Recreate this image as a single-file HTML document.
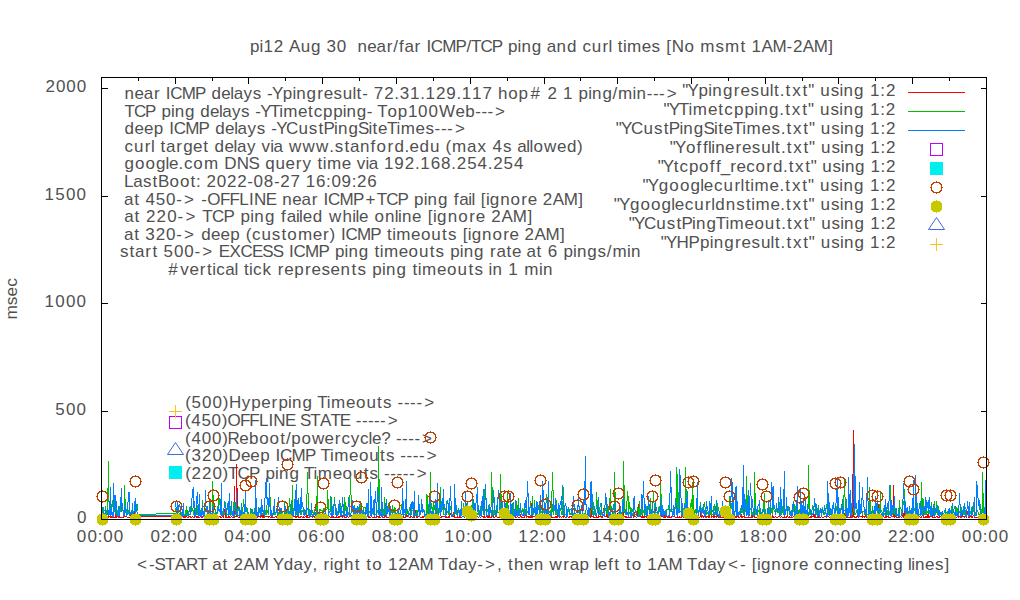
<!DOCTYPE html><html><head><meta charset="utf-8"><style>html,body{margin:0;padding:0;background:#fff;overflow:hidden}svg{display:block}text{font-family:"Liberation Sans",sans-serif;font-size:17px;fill:#505050}</style></head><body>
<svg width="1020" height="600" viewBox="0 0 1020 600">
<rect width="1020" height="600" fill="#fff"/>
<g><text x="250.1 259.6 263.5 273.8 283.9 288.9 300.7 311.0 321.1 326.5 336.8 346.9 352.1 357.4 367.2 376.5 386.7 393.3 399.0 404.4 414.5 421.2 426.4 430.8 442.3 455.6 466.6 471.0 480.4 491.7 502.7 508.1 517.6 521.5 531.8 541.9 546.8 556.6 566.9 577.0 582.4 591.7 602.4 608.5 612.1 617.8 622.9 627.0 641.7 651.5 660.6 666.3 671.8 684.6 694.7 700.3 715.5 725.0 740.6 746.3 751.6 761.5 772.5 786.6 792.9 802.8 813.8 828.3" y="52.0" xml:space="preserve">pi12 Aug 30  near/far ICMP/TCP ping and curl times [No msmt 1AM-2AM]</text><text x="77.0" y="522.6" xml:space="preserve">0</text><text x="55.3 66.0 76.6" y="415.2" xml:space="preserve">500</text><text x="44.6 55.2 65.9 76.6" y="307.2" xml:space="preserve">1000</text><text x="44.6 55.2 65.9 76.6" y="200.2" xml:space="preserve">1500</text><text x="45.5 55.9 66.3 76.7" y="92.2" xml:space="preserve">2000</text><text x="76.8 87.4 97.7 103.2 113.8" y="542.0" xml:space="preserve">00:00</text><text x="150.6 161.1 171.4 177.0 187.6" y="542.0" xml:space="preserve">02:00</text><text x="224.3 234.9 245.2 250.7 261.3" y="542.0" xml:space="preserve">04:00</text><text x="298.1 308.6 318.9 324.5 335.1" y="542.0" xml:space="preserve">06:00</text><text x="371.8 382.4 392.7 398.2 408.8" y="542.0" xml:space="preserve">08:00</text><text x="444.6 455.4 465.9 471.6 482.5" y="542.0" xml:space="preserve">10:00</text><text x="518.3 529.2 539.6 545.4 556.2" y="542.0" xml:space="preserve">12:00</text><text x="592.1 602.9 613.4 619.1 630.0" y="542.0" xml:space="preserve">14:00</text><text x="665.8 676.7 687.1 692.9 703.7" y="542.0" xml:space="preserve">16:00</text><text x="739.6 750.4 760.9 766.6 777.5" y="542.0" xml:space="preserve">18:00</text><text x="814.3 824.9 835.2 840.7 851.3" y="542.0" xml:space="preserve">20:00</text><text x="888.1 898.6 908.9 914.5 925.1" y="542.0" xml:space="preserve">22:00</text><text x="961.8 972.4 982.7 988.2 998.8" y="542.0" xml:space="preserve">00:00</text><text x="137.0 149.1 154.6 164.9 174.9 185.9 197.2 207.4 212.3 222.5 228.2 233.6 243.6 254.7 268.8 272.8 283.7 293.6 303.4 312.6 317.8 323.6 329.8 333.7 344.1 354.8 360.5 366.3 372.2 382.4 387.9 398.3 408.3 419.4 433.5 437.9 448.3 458.2 468.1 477.3 485.1 497.0 502.3 508.0 514.0 523.9 533.8 543.9 549.5 563.3 569.7 579.6 589.8 594.4 597.8 608.0 614.3 620.0 625.7 631.7 641.9 647.3 657.3 668.4 682.5 687.0 697.4 707.3 717.1 727.9 739.9 746.1 751.8 757.0 760.9 771.3 781.8 792.5 799.0 808.6 814.0 823.4 833.9 844.3 854.2 864.0 873.7 878.9 882.8 893.3 903.4 908.1 911.2 915.1 925.0 934.9 944.6" y="569.6" xml:space="preserve">&lt;-START at 2AM Yday, right to 12AM Tday-&gt;, then wrap left to 1AM Tday&lt;- [ignore connecting lines]</text><text x="0" y="0" transform="translate(17,319.6) rotate(-90)" textLength="41.4" lengthAdjust="spacingAndGlyphs">msec</text><text x="124.6 134.4 143.7 153.9 160.6 165.8 170.3 181.7 195.0 206.1 211.5 221.3 230.3 233.7 243.5 252.8 261.9 267.1 272.1 282.8 292.4 296.3 306.6 317.3 323.7 333.5 342.8 352.4 356.6 362.3 368.4 373.8 384.2 394.3 399.7 410.0 420.2 425.5 435.9 446.2 456.4 461.7 472.1 482.4 492.5 497.9 508.3 518.6 530.5 542.2 547.6 557.7 563.1 573.2 578.6 588.2 592.0 602.4 612.5 618.1 632.6 636.5 646.7 652.9 659.1 666.8" y="99.0" xml:space="preserve">near ICMP delays -Ypingresult- 72.31.129.117 hop# 2 1 ping/min---&gt;</text><text x="124.6 133.9 145.1 156.1 161.4 170.9 174.7 184.9 195.0 200.3 210.0 219.0 222.3 231.9 241.1 250.2 255.3 260.2 269.9 279.3 283.3 297.9 308.0 313.8 323.0 333.2 342.7 346.5 356.8 366.8 372.9 377.3 387.5 397.7 407.9 418.1 428.4 438.9 455.5 465.2 475.3 481.4 487.5 495.1" y="116.6" xml:space="preserve">TCP ping delays -YTimetcpping- Top100Web---&gt;</text><text x="124.6 134.5 143.9 153.8 163.9 169.2 173.7 185.3 198.6 209.7 215.2 225.1 234.2 237.6 247.4 256.8 265.9 271.2 276.2 286.1 298.4 308.8 318.5 323.5 334.1 338.0 348.4 357.9 368.4 372.6 378.1 387.0 396.5 400.7 415.5 425.4 434.6 440.9 447.1 454.9" y="134.2" xml:space="preserve">deep ICMP delays -YCustPingSiteTimes---&gt;</text><text x="124.6 134.1 144.8 151.0 154.7 160.5 165.9 176.2 183.2 193.1 203.3 209.1 214.6 224.5 233.6 237.0 246.9 256.1 261.6 270.2 273.6 283.3 288.9 302.5 316.1 329.3 334.7 344.5 349.9 359.9 370.6 376.6 387.4 394.4 404.6 409.5 419.5 429.9 440.1 445.4 452.1 467.0 477.4 487.2 492.6 503.0 512.3 517.2 526.3 529.5 533.4 544.0 556.9 566.9 577.1" y="151.8" xml:space="preserve">curl target delay via www.stanford.edu (max 4s allowed)</text><text x="124.6 135.0 145.5 155.9 165.5 168.9 178.5 183.9 193.3 204.0 219.1 224.2 236.7 248.6 259.7 265.2 275.6 285.5 295.7 302.6 311.8 317.5 322.7 326.9 341.7 351.4 356.8 365.4 368.8 378.4 383.9 394.3 404.7 414.9 420.3 430.7 441.1 451.3 456.7 467.2 477.6 487.7 493.2 503.6 514.0" y="169.4" xml:space="preserve">google.com DNS query time via 192.168.254.254</text><text x="124.1 133.3 143.0 152.5 157.9 169.6 179.9 190.4 196.0 201.2 206.5 216.7 226.9 237.2 247.3 253.6 263.8 273.9 280.2 290.4 300.5 305.8 316.0 326.1 331.4 341.6 351.7 357.0 367.2" y="187.0" xml:space="preserve">LastBoot: 2022-08-27 16:09:26</text><text x="124.1 134.3 140.0 145.4 155.7 166.1 176.3 184.0 196.0 201.2 207.3 220.1 229.5 239.3 248.9 253.9 265.8 276.9 282.3 292.2 301.5 311.7 318.4 323.6 328.1 339.6 353.0 365.6 376.8 386.2 397.6 408.7 414.1 423.7 427.6 437.9 448.1 453.8 459.2 468.3 471.4 475.1 480.8 485.9 489.8 500.2 510.6 521.3 527.7 537.3 542.7 552.7 563.7 578.3" y="204.6" xml:space="preserve">at 450-&gt; -OFFLINE near ICMP+TCP ping fail [ignore 2AM]</text><text x="124.2 134.5 140.4 146.0 156.6 167.2 177.6 185.6 197.7 202.3 212.0 223.6 234.9 240.5 250.3 254.3 264.9 275.3 281.1 286.7 295.9 299.1 302.7 312.7 323.1 328.9 342.5 352.2 355.4 359.0 368.8 374.4 385.0 394.7 397.9 402.0 412.1 421.9 427.7 433.0 437.0 447.7 458.3 469.2 475.8 485.6 491.2 501.4 512.8 527.6" y="222.2" xml:space="preserve">at 220-&gt; TCP ping failed while online [ignore 2AM]</text><text x="124.1 134.2 139.9 145.3 155.7 166.1 176.3 184.0 195.9 201.3 211.1 220.5 230.3 240.4 245.7 252.0 261.4 271.7 281.4 287.3 297.9 312.7 322.9 329.6 335.8 341.0 345.5 357.0 370.3 381.4 387.1 392.2 396.3 411.1 421.0 431.3 442.0 447.9 457.0 462.7 467.8 471.7 482.1 492.5 503.2 509.6 519.2 524.6 534.5 545.5 560.1" y="239.8" xml:space="preserve">at 320-&gt; deep (customer) ICMP timeouts [ignore 2AM]</text><text x="119.9 129.6 135.0 145.2 152.4 158.1 163.5 173.9 184.3 194.5 202.2 214.2 218.7 229.6 240.5 251.9 262.3 272.7 283.8 289.0 293.5 305.0 318.4 329.5 334.9 344.5 348.4 358.8 368.9 374.6 379.8 383.9 398.8 408.6 419.0 429.7 435.6 444.7 450.2 459.8 463.7 474.0 484.2 490.0 496.4 506.5 512.0 521.6 526.5 536.6 542.4 547.8 557.9 563.4 572.9 576.9 587.2 597.6 606.7 612.4 626.9 630.9" y="257.4" xml:space="preserve">start 500-&gt; EXCESS ICMP ping timeouts ping rate at 6 pings/min</text><text x="168.3 180.3 189.4 199.7 207.0 212.2 216.2 225.2 234.4 238.1 243.9 249.1 253.1 262.6 271.8 277.7 284.2 294.2 305.1 311.6 321.6 330.6 340.6 351.4 357.4 366.7 372.2 381.9 385.9 396.5 406.8 412.6 417.8 422.1 437.1 447.1 457.6 468.4 474.4 483.7 488.4 492.4 502.7 508.2 518.5 524.3 539.0 543.0" y="275.0" xml:space="preserve">#vertical tick represents ping timeouts in 1 min</text><text x="682.3 687.6 698.6 708.3 712.3 722.9 733.8 740.4 750.4 759.9 769.7 773.9 779.8 785.6 792.2 802.5 808.2 814.7 820.3 830.8 839.5 843.5 854.1 864.4 870.0 880.3 885.9" y="96.0" xml:space="preserve">&quot;Ypingresult.txt&quot; using 1:2</text><text x="663.4 668.7 678.8 688.4 692.8 707.9 718.2 724.3 733.9 744.6 754.3 758.4 769.0 779.3 785.2 791.8 802.2 807.9 814.4 820.0 830.6 839.3 843.4 854.0 864.3 869.9 880.2 885.8" y="115.0" xml:space="preserve">&quot;YTimetcpping.txt&quot; using 1:2</text><text x="615.8 621.0 631.0 643.5 653.9 663.7 668.7 679.4 683.3 693.8 703.4 714.0 718.2 723.7 732.7 742.3 746.6 761.5 771.4 780.7 786.4 793.0 803.2 808.9 815.3 820.8 831.3 839.9 843.9 854.4 864.6 870.1 880.4 885.9" y="134.0" xml:space="preserve">&quot;YCustPingSiteTimes.txt&quot; using 1:2</text><text x="669.8 675.0 685.9 696.6 702.9 708.1 711.2 715.2 725.1 735.4 741.9 751.8 761.3 770.9 775.1 780.9 786.7 793.2 803.4 809.1 815.5 821.0 831.4 840.0 844.0 854.5 864.7 870.2 880.4 885.9" y="153.0" xml:space="preserve">&quot;Yofflineresult.txt&quot; using 1:2</text><text x="657.7 662.8 673.8 679.6 688.9 699.1 709.7 715.9 720.7 730.3 736.6 746.3 755.6 766.2 773.0 783.1 788.7 795.1 805.2 810.7 817.0 822.3 832.5 841.0 844.9 855.1 865.2 870.5 880.6 885.9" y="172.0" xml:space="preserve">&quot;Ytcpoff_record.txt&quot; using 1:2</text><text x="642.4 647.7 658.7 669.3 680.0 690.6 700.3 703.8 713.9 723.5 734.4 740.6 744.9 750.2 754.6 769.6 779.4 785.3 791.9 802.3 808.0 814.5 820.1 830.6 839.3 843.4 854.0 864.3 869.9 880.3 885.9" y="191.0" xml:space="preserve">&quot;Ygooglecurltime.txt&quot; using 1:2</text><text x="613.8 619.0 630.0 640.5 651.0 661.6 671.3 674.7 684.7 694.2 705.1 711.3 715.3 725.8 736.3 746.1 751.3 755.6 770.6 780.3 786.1 792.6 802.9 808.6 815.0 820.6 831.1 839.7 843.7 854.3 864.5 870.1 880.3 885.9" y="210.0" xml:space="preserve">&quot;Ygooglecurldnstime.txt&quot; using 1:2</text><text x="628.8 633.9 643.9 656.3 666.7 676.4 681.4 692.0 695.9 706.4 715.8 725.4 729.6 744.5 754.4 764.8 775.5 781.3 787.0 793.5 803.7 809.3 815.7 821.2 831.6 840.2 844.1 854.6 864.8 870.2 880.4 885.9" y="229.0" xml:space="preserve">&quot;YCustPingTimeout.txt&quot; using 1:2</text><text x="660.8 666.0 676.6 688.6 700.0 709.7 713.7 724.2 735.0 741.5 751.4 760.9 770.6 774.8 780.6 786.4 792.9 803.2 808.8 815.3 820.8 831.2 839.9 843.9 854.4 864.6 870.1 880.4 885.9" y="248.0" xml:space="preserve">&quot;YHPpingresult.txt&quot; using 1:2</text><text x="185.2 191.6 202.1 212.6 222.8 228.9 241.8 251.3 261.2 271.5 278.5 288.1 292.1 302.6 312.8 317.3 326.8 331.1 346.0 355.9 366.4 377.1 383.1 392.3 397.6 403.9 410.1 416.4 424.2" y="408.0" xml:space="preserve">(500)Hyperping Timeouts ----&gt;</text><text x="185.1 191.3 201.5 211.6 221.7 227.5 240.1 249.3 258.9 268.4 273.2 284.9 295.8 300.1 310.2 319.9 330.5 339.7 350.6 355.8 361.9 368.0 374.1 380.1 387.7" y="425.8" xml:space="preserve">(450)OFFLINE STATE -----&gt;</text><text x="185.1 191.5 201.7 212.0 222.2 227.6 239.3 249.1 259.3 269.6 280.2 285.9 291.2 301.5 311.9 324.6 334.8 341.6 350.8 360.1 368.6 372.0 381.2 390.8 396.0 402.1 408.3 414.5 422.1" y="443.5" xml:space="preserve">(400)Reboot/powercycle? ----&gt;</text><text x="185.1 191.6 202.0 212.4 222.6 228.6 240.9 250.3 260.2 270.3 275.5 280.1 291.6 305.0 316.1 320.5 330.0 334.2 349.0 358.9 369.3 380.0 385.9 395.1 400.3 406.5 412.8 419.0 426.8" y="461.2" xml:space="preserve">(320)Deep ICMP Timeouts ----&gt;</text><text x="185.2 191.6 202.0 212.4 222.6 228.1 237.5 248.9 260.1 265.5 275.1 279.0 289.4 299.6 304.1 313.6 317.8 332.7 342.5 353.0 363.7 369.6 378.7 384.0 390.3 396.5 402.7 409.0 416.8" y="479.0" xml:space="preserve">(220)TCP ping Timeouts -----&gt;</text></g>
<path d="M101 518.5h7M987 518.5h-6M101 411.5h7M987 411.5h-6M101 303.5h7M987 303.5h-6M101 196.5h7M987 196.5h-6M101 88.5h7M987 88.5h-6M101.5 78v6M101.5 519v-6M138.5 78v3M138.5 519v-3M175.5 78v6M175.5 519v-6M212.5 78v3M212.5 519v-3M248.5 78v6M248.5 519v-6M285.5 78v3M285.5 519v-3M322.5 78v6M322.5 519v-6M359.5 78v3M359.5 519v-3M396.5 78v6M396.5 519v-6M433.5 78v3M433.5 519v-3M470.5 78v6M470.5 519v-6M507.5 78v3M507.5 519v-3M544.5 78v6M544.5 519v-6M580.5 78v3M580.5 519v-3M617.5 78v6M617.5 519v-6M654.5 78v3M654.5 519v-3M691.5 78v6M691.5 519v-6M728.5 78v3M728.5 519v-3M765.5 78v6M765.5 519v-6M802.5 78v3M802.5 519v-3M838.5 78v6M838.5 519v-6M875.5 78v3M875.5 519v-3M912.5 78v6M912.5 519v-6M949.5 78v3M949.5 519v-3M986.5 78v6M986.5 519v-6" fill="none" stroke="#000" stroke-width="1" shape-rendering="crispEdges"/>
<g><path d="M101.5 517v1M102.5 516v2M103.5 511v7M104.5 514v3M105.5 517v1M106.5 517v1M107.5 517v1M108.5 516v2M109.5 516v1M110.5 516v2M111.5 516v2M112.5 517v1M113.5 516v2M114.5 517v1M115.5 503v15M116.5 510v8M117.5 516v1M118.5 516v2M119.5 516v2M120.5 517v1M121.5 517v1M122.5 517v1M123.5 516v2M124.5 516v1M125.5 516v1M126.5 514v3M127.5 517v1M128.5 517v1M129.5 517v1M130.5 512v6M131.5 514v3M132.5 517v1M133.5 512v6M134.5 505v13M135.5 514v3M136.5 515v2M137.5 516v2M138.5 516v1M139.5 516v1M140.5 516v1M141.5 516v1M142.5 516v1M143.5 516v1M144.5 516v1M145.5 516v1M146.5 516v1M147.5 516v1M148.5 516v1M149.5 516v1M150.5 516v1M151.5 516v1M152.5 516v1M153.5 516v1M154.5 516v1M155.5 516v1M156.5 516v1M157.5 516v1M158.5 516v1M159.5 516v1M160.5 516v1M161.5 516v1M162.5 516v1M163.5 516v1M164.5 516v1M165.5 516v1M166.5 516v1M167.5 516v1M168.5 516v1M169.5 516v1M170.5 516v1M171.5 516v1M172.5 516v1M173.5 516v1M174.5 516v1M175.5 516v2M176.5 516v1M177.5 516v2M178.5 517v1M179.5 517v1M180.5 517v1M181.5 517v1M182.5 516v1M183.5 510v8M184.5 514v4M185.5 516v2M186.5 516v1M187.5 517v1M188.5 517v1M189.5 516v1M190.5 516v2M191.5 517v1M192.5 516v1M193.5 517v1M194.5 516v2M195.5 516v1M196.5 516v2M197.5 516v2M198.5 517v1M199.5 517v1M200.5 516v1M201.5 517v1M202.5 516v2M203.5 516v1M204.5 514v4M205.5 515v2M206.5 516v1M207.5 516v1M208.5 516v1M209.5 516v1M210.5 511v7M211.5 514v4M212.5 517v1M213.5 512v6M214.5 515v3M215.5 516v2M216.5 517v1M217.5 516v1M218.5 517v1M219.5 516v1M220.5 516v2M221.5 517v1M222.5 516v1M223.5 514v4M224.5 509v5M225.5 513v5M226.5 516v2M227.5 517v1M228.5 516v2M229.5 516v2M230.5 517v1M231.5 516v1M232.5 517v1M233.5 502v16M234.5 486v32M235.5 516v1M236.5 464v53M237.5 488v29M238.5 517v1M239.5 516v2M240.5 516v1M241.5 516v1M242.5 517v1M243.5 517v1M244.5 517v1M245.5 516v2M246.5 517v1M247.5 516v2M248.5 516v2M249.5 517v1M250.5 516v1M251.5 517v1M252.5 517v1M253.5 517v1M254.5 517v1M255.5 516v2M256.5 516v1M257.5 517v1M258.5 516v1M259.5 516v1M260.5 516v2M261.5 513v4M262.5 514v4M263.5 510v8M264.5 517v1M265.5 516v1M266.5 516v1M267.5 516v1M268.5 516v2M269.5 516v1M270.5 517v1M271.5 516v2M272.5 516v2M273.5 517v1M274.5 517v1M275.5 516v1M276.5 516v2M277.5 516v2M278.5 517v1M279.5 517v1M280.5 516v2M281.5 517v1M282.5 516v2M283.5 516v1M284.5 517v1M285.5 516v1M286.5 516v1M287.5 517v1M288.5 516v2M289.5 516v1M290.5 517v1M291.5 517v1M292.5 517v1M293.5 516v1M294.5 516v1M295.5 516v2M296.5 516v2M297.5 516v1M298.5 516v2M299.5 517v1M300.5 516v2M301.5 516v1M302.5 517v1M303.5 516v2M304.5 517v1M305.5 516v1M306.5 513v5M307.5 515v3M308.5 517v1M309.5 515v3M310.5 516v1M311.5 516v1M312.5 516v2M313.5 516v1M314.5 516v2M315.5 516v2M316.5 517v1M317.5 517v1M318.5 517v1M319.5 511v7M320.5 514v4M321.5 517v1M322.5 516v2M323.5 516v2M324.5 516v1M325.5 516v1M326.5 517v1M327.5 515v3M328.5 516v2M329.5 516v1M330.5 517v1M331.5 516v2M332.5 517v1M333.5 516v2M334.5 517v1M335.5 517v1M336.5 516v2M337.5 517v1M338.5 516v2M339.5 516v2M340.5 516v1M341.5 516v1M342.5 515v3M343.5 511v6M344.5 516v2M345.5 517v1M346.5 516v2M347.5 516v1M348.5 517v1M349.5 515v2M350.5 513v2M351.5 515v3M352.5 517v1M353.5 517v1M354.5 516v2M355.5 517v1M356.5 517v1M357.5 517v1M358.5 516v1M359.5 513v5M360.5 515v3M361.5 517v1M362.5 516v2M363.5 517v1M364.5 516v1M365.5 514v3M366.5 516v2M367.5 516v1M368.5 516v2M369.5 517v1M370.5 517v1M371.5 516v1M372.5 517v1M373.5 517v1M374.5 517v1M375.5 517v1M376.5 516v2M377.5 516v1M378.5 516v2M379.5 516v2M380.5 517v1M381.5 516v1M382.5 517v1M383.5 517v1M384.5 516v2M385.5 515v2M386.5 513v5M387.5 517v1M388.5 517v1M389.5 517v1M390.5 512v5M391.5 515v3M392.5 516v2M393.5 517v1M394.5 517v1M395.5 516v2M396.5 516v1M397.5 517v1M398.5 516v2M399.5 517v1M400.5 513v4M401.5 515v2M402.5 517v1M403.5 516v2M404.5 517v1M405.5 517v1M406.5 513v4M407.5 515v2M408.5 512v5M409.5 517v1M410.5 516v2M411.5 516v1M412.5 517v1M413.5 517v1M414.5 514v4M415.5 510v4M416.5 514v4M417.5 517v1M418.5 516v1M419.5 516v1M420.5 517v1M421.5 517v1M422.5 516v2M423.5 516v2M424.5 512v4M425.5 515v3M426.5 515v2M427.5 516v2M428.5 517v1M429.5 513v5M430.5 509v9M431.5 515v2M432.5 516v2M433.5 512v6M434.5 515v3M435.5 517v1M436.5 517v1M437.5 516v1M438.5 516v1M439.5 517v1M440.5 517v1M441.5 516v2M442.5 516v1M443.5 516v1M444.5 516v1M445.5 517v1M446.5 516v2M447.5 517v1M448.5 516v2M449.5 515v3M450.5 513v2M451.5 515v2M452.5 516v1M453.5 512v5M454.5 515v3M455.5 517v1M456.5 517v1M457.5 516v2M458.5 517v1M459.5 516v2M460.5 517v1M461.5 517v1M462.5 516v1M463.5 515v2M464.5 512v6M465.5 512v5M466.5 513v4M467.5 509v9M468.5 516v1M469.5 507v11M470.5 512v6M471.5 517v1M472.5 517v1M473.5 516v2M474.5 517v1M475.5 512v5M476.5 515v3M477.5 516v1M478.5 517v1M479.5 516v1M480.5 517v1M481.5 516v1M482.5 516v1M483.5 516v2M484.5 516v2M485.5 517v1M486.5 516v1M487.5 516v2M488.5 511v7M489.5 504v14M490.5 517v1M491.5 516v2M492.5 508v9M493.5 513v5M494.5 517v1M495.5 516v1M496.5 516v1M497.5 517v1M498.5 517v1M499.5 516v2M500.5 517v1M501.5 516v1M502.5 516v2M503.5 517v1M504.5 516v2M505.5 517v1M506.5 517v1M507.5 516v2M508.5 516v2M509.5 514v2M510.5 516v2M511.5 517v1M512.5 516v2M513.5 516v2M514.5 516v1M515.5 516v2M516.5 517v1M517.5 516v1M518.5 517v1M519.5 517v1M520.5 514v3M521.5 516v2M522.5 517v1M523.5 517v1M524.5 516v2M525.5 512v4M526.5 509v9M527.5 516v1M528.5 516v2M529.5 516v2M530.5 517v1M531.5 503v15M532.5 510v8M533.5 516v1M534.5 516v1M535.5 516v1M536.5 517v1M537.5 517v1M538.5 517v1M539.5 516v2M540.5 517v1M541.5 516v1M542.5 516v2M543.5 516v1M544.5 516v2M545.5 516v1M546.5 517v1M547.5 516v1M548.5 515v2M549.5 516v1M550.5 516v2M551.5 516v2M552.5 517v1M553.5 517v1M554.5 517v1M555.5 516v2M556.5 516v2M557.5 514v4M558.5 509v8M559.5 516v2M560.5 516v1M561.5 517v1M562.5 516v1M563.5 516v2M564.5 516v1M565.5 517v1M566.5 516v2M567.5 516v1M568.5 517v1M569.5 516v2M570.5 516v1M571.5 516v2M572.5 516v2M573.5 516v1M574.5 516v2M575.5 516v2M576.5 516v1M577.5 516v1M578.5 516v1M579.5 515v2M580.5 517v1M581.5 516v1M582.5 509v8M583.5 513v5M584.5 517v1M585.5 511v6M586.5 514v4M587.5 514v4M588.5 512v6M589.5 516v1M590.5 503v15M591.5 488v29M592.5 516v1M593.5 514v4M594.5 517v1M595.5 517v1M596.5 516v2M597.5 517v1M598.5 515v3M599.5 516v1M600.5 516v1M601.5 516v2M602.5 513v5M603.5 508v5M604.5 512v5M605.5 516v1M606.5 513v4M607.5 515v3M608.5 517v1M609.5 516v2M610.5 517v1M611.5 516v1M612.5 516v2M613.5 516v1M614.5 516v2M615.5 516v2M616.5 516v1M617.5 516v2M618.5 517v1M619.5 515v2M620.5 516v1M621.5 517v1M622.5 515v3M623.5 512v5M624.5 516v1M625.5 516v2M626.5 516v2M627.5 517v1M628.5 516v2M629.5 517v1M630.5 516v2M631.5 514v4M632.5 514v2M633.5 515v3M634.5 512v5M635.5 516v1M636.5 517v1M637.5 511v6M638.5 504v13M639.5 516v1M640.5 516v1M641.5 516v2M642.5 515v3M643.5 516v2M644.5 516v2M645.5 516v1M646.5 515v3M647.5 516v2M648.5 515v3M649.5 511v6M650.5 516v1M651.5 516v1M652.5 516v2M653.5 516v1M654.5 513v5M655.5 509v8M656.5 516v1M657.5 516v1M658.5 517v1M659.5 516v1M660.5 516v2M661.5 516v1M662.5 513v4M663.5 510v8M664.5 514v4M665.5 516v2M666.5 516v1M667.5 517v1M668.5 516v2M669.5 513v5M670.5 517v1M671.5 516v2M672.5 516v1M673.5 516v1M674.5 516v1M675.5 517v1M676.5 517v1M677.5 516v2M678.5 517v1M679.5 516v2M680.5 517v1M681.5 516v2M682.5 516v1M683.5 517v1M684.5 510v7M685.5 514v4M686.5 516v1M687.5 516v1M688.5 516v1M689.5 516v2M690.5 517v1M691.5 517v1M692.5 513v5M693.5 515v3M694.5 516v1M695.5 517v1M696.5 516v1M697.5 517v1M698.5 516v2M699.5 517v1M700.5 503v14M701.5 510v8M702.5 515v2M703.5 516v2M704.5 516v1M705.5 516v2M706.5 516v2M707.5 516v1M708.5 516v2M709.5 515v3M710.5 511v4M711.5 514v4M712.5 516v1M713.5 515v3M714.5 516v2M715.5 516v1M716.5 514v4M717.5 515v2M718.5 517v1M719.5 517v1M720.5 516v2M721.5 517v1M722.5 517v1M723.5 517v1M724.5 516v1M725.5 516v2M726.5 516v1M727.5 517v1M728.5 515v3M729.5 512v3M730.5 514v4M731.5 517v1M732.5 516v1M733.5 516v2M734.5 517v1M735.5 516v2M736.5 516v2M737.5 516v1M738.5 516v2M739.5 517v1M740.5 511v6M741.5 514v4M742.5 516v2M743.5 516v1M744.5 514v4M745.5 517v1M746.5 517v1M747.5 517v1M748.5 516v2M749.5 517v1M750.5 517v1M751.5 515v3M752.5 512v6M753.5 516v1M754.5 516v2M755.5 517v1M756.5 517v1M757.5 516v2M758.5 517v1M759.5 514v4M760.5 509v9M761.5 516v1M762.5 516v1M763.5 516v1M764.5 516v1M765.5 516v2M766.5 517v1M767.5 516v1M768.5 517v1M769.5 517v1M770.5 516v1M771.5 516v1M772.5 514v4M773.5 516v2M774.5 517v1M775.5 516v1M776.5 517v1M777.5 517v1M778.5 516v1M779.5 516v1M780.5 517v1M781.5 516v1M782.5 517v1M783.5 517v1M784.5 516v2M785.5 517v1M786.5 516v2M787.5 513v4M788.5 517v1M789.5 516v2M790.5 517v1M791.5 516v2M792.5 517v1M793.5 516v1M794.5 514v4M795.5 513v5M796.5 517v1M797.5 516v1M798.5 517v1M799.5 512v6M800.5 505v12M801.5 514v4M802.5 509v9M803.5 516v2M804.5 517v1M805.5 515v2M806.5 516v1M807.5 517v1M808.5 516v1M809.5 517v1M810.5 516v2M811.5 516v2M812.5 516v1M813.5 511v6M814.5 514v4M815.5 516v2M816.5 517v1M817.5 517v1M818.5 516v2M819.5 516v2M820.5 517v1M821.5 516v1M822.5 517v1M823.5 517v1M824.5 516v1M825.5 516v1M826.5 516v2M827.5 516v1M828.5 516v1M829.5 517v1M830.5 517v1M831.5 516v2M832.5 516v1M833.5 516v1M834.5 514v4M835.5 517v1M836.5 517v1M837.5 517v1M838.5 516v2M839.5 516v1M840.5 516v2M841.5 517v1M842.5 516v2M843.5 516v2M844.5 513v3M845.5 515v3M846.5 517v1M847.5 517v1M848.5 517v1M849.5 517v1M850.5 512v6M851.5 514v4M852.5 474v44M853.5 430v87M854.5 516v2M855.5 517v1M856.5 516v2M857.5 516v1M858.5 512v6M859.5 514v3M860.5 516v1M861.5 516v1M862.5 515v3M863.5 516v1M864.5 516v2M865.5 509v8M866.5 501v17M867.5 516v2M868.5 517v1M869.5 516v2M870.5 516v1M871.5 517v1M872.5 516v2M873.5 517v1M874.5 516v2M875.5 517v1M876.5 517v1M877.5 511v6M878.5 504v14M879.5 517v1M880.5 516v2M881.5 517v1M882.5 516v1M883.5 516v1M884.5 517v1M885.5 516v2M886.5 516v2M887.5 516v1M888.5 516v2M889.5 517v1M890.5 517v1M891.5 516v1M892.5 516v1M893.5 485v32M894.5 501v17M895.5 516v1M896.5 517v1M897.5 517v1M898.5 517v1M899.5 517v1M900.5 516v1M901.5 517v1M902.5 513v4M903.5 513v5M904.5 507v11M905.5 516v2M906.5 517v1M907.5 516v2M908.5 517v1M909.5 516v2M910.5 517v1M911.5 516v1M912.5 517v1M913.5 517v1M914.5 517v1M915.5 517v1M916.5 517v1M917.5 516v2M918.5 513v5M919.5 516v1M920.5 517v1M921.5 516v2M922.5 514v2M923.5 516v2M924.5 517v1M925.5 516v2M926.5 516v2M927.5 514v4M928.5 509v9M929.5 516v2M930.5 516v1M931.5 513v4M932.5 515v3M933.5 517v1M934.5 516v2M935.5 517v1M936.5 516v1M937.5 516v2M938.5 517v1M939.5 516v2M940.5 516v1M941.5 516v2M942.5 516v2M943.5 516v1M944.5 517v1M945.5 509v9M946.5 513v5M947.5 517v1M948.5 516v1M949.5 516v1M950.5 517v1M951.5 516v1M952.5 516v2M953.5 516v2M954.5 516v1M955.5 516v2M956.5 517v1M957.5 515v2M958.5 516v2M959.5 516v1M960.5 516v2M961.5 513v5M962.5 515v2M963.5 516v1M964.5 516v2M965.5 516v1M966.5 515v3M967.5 511v4M968.5 514v4M969.5 516v2M970.5 516v1M971.5 516v2M972.5 516v2M973.5 515v1M974.5 515v3M975.5 517v1M976.5 517v1M977.5 517v1M978.5 517v1M979.5 516v2M980.5 516v2M981.5 516v1M982.5 516v2M983.5 517v1M984.5 516v2M985.5 516v1M986.5 517v1" fill="none" stroke="#ff0000" stroke-width="1" shape-rendering="crispEdges"/><path d="M101.5 514v1M102.5 508v7M103.5 507v5M104.5 510v1M105.5 506v7M106.5 510v5M107.5 488v27M108.5 461v41M109.5 501v7M110.5 507v8M111.5 504v7M112.5 500v7M113.5 507v8M114.5 508v4M115.5 503v10M116.5 505v10M117.5 510v5M118.5 506v9M119.5 506v9M120.5 508v4M121.5 499v13M122.5 504v7M123.5 511v4M124.5 485v28M125.5 499v14M126.5 509v3M127.5 512v3M128.5 510v4M129.5 506v9M130.5 514v1M131.5 512v3M132.5 509v3M133.5 511v4M134.5 505v6M135.5 510v5M136.5 505v5M137.5 504v7M137.5 514v1M138.5 514v1M139.5 514v1M140.5 514v1M141.5 514v1M142.5 514v1M143.5 514v1M144.5 514v1M145.5 514v1M146.5 514v1M147.5 514v1M148.5 514v1M149.5 514v1M150.5 514v1M151.5 514v1M152.5 514v1M153.5 514v1M154.5 514v1M155.5 514v1M156.5 513v1M157.5 513v1M158.5 513v1M159.5 513v1M160.5 513v1M161.5 513v1M162.5 513v1M163.5 513v1M164.5 513v1M165.5 513v1M166.5 513v1M167.5 513v1M168.5 513v1M169.5 513v1M170.5 513v1M171.5 513v1M172.5 513v1M173.5 513v1M174.5 513v1M175.5 508v3M175.5 513v1M176.5 511v4M177.5 510v5M178.5 505v8M179.5 513v2M180.5 510v5M181.5 512v3M182.5 512v3M183.5 511v4M184.5 514v1M185.5 510v5M186.5 506v9M187.5 510v5M188.5 511v4M189.5 514v1M190.5 506v9M191.5 499v13M192.5 508v3M193.5 510v5M194.5 506v5M195.5 508v3M196.5 503v8M197.5 505v10M198.5 510v5M199.5 507v5M200.5 510v2M201.5 508v7M202.5 500v15M203.5 511v2M204.5 510v1M205.5 508v4M206.5 506v4M207.5 510v5M208.5 513v2M209.5 505v8M210.5 501v14M211.5 513v2M212.5 481v32M213.5 495v20M214.5 504v6M215.5 509v6M216.5 514v1M217.5 506v8M218.5 497v9M219.5 498v7M220.5 505v10M221.5 507v6M222.5 511v4M223.5 510v5M224.5 512v3M225.5 502v10M226.5 508v7M227.5 514v1M228.5 514v1M229.5 504v11M230.5 506v5M231.5 511v4M232.5 513v2M233.5 502v13M234.5 502v9M235.5 508v7M236.5 512v3M237.5 509v6M238.5 506v5M239.5 507v5M240.5 512v3M241.5 512v3M242.5 507v8M243.5 499v8M244.5 507v8M245.5 510v2M246.5 510v2M247.5 508v7M248.5 512v3M249.5 514v1M250.5 508v7M251.5 511v4M252.5 509v6M253.5 512v3M254.5 508v4M255.5 509v2M256.5 507v8M257.5 514v1M258.5 510v5M259.5 508v2M260.5 510v3M261.5 512v3M262.5 513v2M263.5 510v5M264.5 510v3M265.5 510v5M266.5 505v10M267.5 510v3M268.5 507v8M269.5 489v18M270.5 497v13M271.5 510v5M272.5 514v1M273.5 514v1M274.5 512v3M275.5 513v2M276.5 508v5M277.5 502v10M278.5 512v3M279.5 509v4M280.5 513v2M281.5 512v2M282.5 513v2M283.5 514v1M284.5 501v14M285.5 506v9M286.5 513v2M287.5 506v7M288.5 507v8M289.5 498v9M290.5 504v7M291.5 500v15M292.5 485v24M293.5 508v5M294.5 502v6M295.5 500v15M296.5 508v7M297.5 512v3M298.5 508v7M299.5 510v3M300.5 508v7M301.5 510v5M302.5 510v2M303.5 512v3M304.5 509v3M305.5 512v3M306.5 494v21M307.5 472v22M308.5 493v22M309.5 509v6M310.5 510v5M311.5 505v10M312.5 510v3M313.5 512v3M314.5 509v3M315.5 512v3M316.5 496v19M317.5 476v39M318.5 512v3M319.5 509v3M320.5 509v2M321.5 510v1M322.5 510v5M323.5 508v7M324.5 508v4M325.5 509v2M326.5 509v1M327.5 490v19M328.5 499v12M329.5 509v1M330.5 496v16M331.5 502v10M332.5 506v4M333.5 504v11M334.5 497v7M335.5 504v11M336.5 508v7M337.5 511v4M338.5 511v4M339.5 508v5M340.5 503v5M341.5 506v9M342.5 511v2M343.5 512v3M344.5 497v18M345.5 502v9M346.5 506v9M347.5 510v5M348.5 512v3M349.5 495v20M350.5 478v17M351.5 495v18M352.5 508v4M353.5 512v3M354.5 505v10M355.5 508v7M356.5 511v2M357.5 509v6M358.5 507v4M359.5 511v4M360.5 501v10M361.5 508v7M362.5 510v3M363.5 507v8M364.5 507v1M365.5 507v8M366.5 510v3M367.5 509v3M368.5 506v5M369.5 511v2M370.5 506v9M371.5 509v6M372.5 512v2M373.5 512v3M374.5 511v4M375.5 514v1M376.5 513v2M377.5 510v3M378.5 446v69M379.5 479v33M380.5 509v6M381.5 510v5M382.5 504v8M383.5 509v6M384.5 497v15M385.5 506v9M386.5 501v14M387.5 506v6M388.5 503v5M389.5 506v7M390.5 508v3M391.5 511v2M392.5 505v10M393.5 509v4M394.5 507v8M395.5 508v7M396.5 514v1M397.5 509v6M398.5 511v4M399.5 513v2M400.5 510v5M401.5 504v6M402.5 509v6M403.5 510v5M404.5 514v1M405.5 504v11M406.5 509v6M407.5 512v2M408.5 511v4M409.5 507v4M410.5 508v7M411.5 510v5M412.5 510v1M413.5 505v10M414.5 495v20M415.5 513v2M416.5 510v5M417.5 510v5M418.5 505v7M419.5 512v3M420.5 510v5M421.5 504v6M422.5 507v3M423.5 509v2M424.5 510v5M425.5 514v1M426.5 494v21M427.5 495v20M428.5 504v9M429.5 493v22M430.5 472v42M431.5 503v6M432.5 507v5M433.5 501v14M434.5 505v5M435.5 508v7M436.5 501v7M437.5 507v8M438.5 511v4M439.5 500v13M440.5 487v23M441.5 501v8M442.5 503v7M443.5 510v5M444.5 514v1M445.5 508v7M446.5 501v10M447.5 511v2M448.5 510v5M449.5 509v6M450.5 506v4M451.5 510v5M452.5 514v1M453.5 514v1M454.5 514v1M455.5 509v5M456.5 505v10M457.5 510v5M458.5 508v3M459.5 511v4M460.5 514v1M461.5 504v11M462.5 508v7M463.5 503v6M464.5 507v4M465.5 510v5M466.5 513v2M467.5 503v10M468.5 509v6M469.5 509v6M470.5 507v5M471.5 505v3M472.5 499v12M473.5 504v11M474.5 506v5M475.5 508v5M476.5 513v2M477.5 513v2M478.5 511v4M479.5 510v3M480.5 506v5M481.5 507v6M482.5 507v4M483.5 498v17M484.5 489v20M485.5 509v2M486.5 506v9M487.5 509v3M488.5 505v6M489.5 506v9M490.5 507v6M491.5 472v35M492.5 487v28M493.5 510v5M494.5 505v10M495.5 514v1M496.5 505v10M497.5 499v14M498.5 512v1M499.5 510v5M500.5 474v36M501.5 494v21M502.5 509v4M503.5 513v2M504.5 514v1M505.5 512v3M506.5 501v11M507.5 492v23M508.5 513v2M509.5 511v2M510.5 508v3M511.5 506v2M512.5 505v10M513.5 502v13M514.5 512v2M515.5 507v6M516.5 501v10M517.5 505v6M518.5 498v10M519.5 508v5M520.5 507v6M521.5 512v3M522.5 508v4M523.5 509v6M524.5 505v10M525.5 509v6M526.5 502v9M527.5 511v2M528.5 509v6M529.5 507v8M530.5 501v7M531.5 506v9M532.5 496v19M533.5 508v7M534.5 500v13M535.5 507v3M536.5 509v4M537.5 507v8M538.5 505v5M539.5 508v7M540.5 504v11M541.5 511v2M542.5 513v2M543.5 508v5M544.5 504v9M545.5 503v9M546.5 494v9M547.5 502v13M548.5 513v2M549.5 511v2M550.5 510v5M551.5 491v24M552.5 472v19M553.5 490v25M554.5 507v4M555.5 504v11M556.5 500v15M557.5 511v2M558.5 511v4M559.5 510v5M560.5 508v3M561.5 511v4M562.5 501v14M563.5 487v20M564.5 507v8M565.5 514v1M566.5 512v3M567.5 512v3M568.5 508v4M569.5 511v4M570.5 513v2M571.5 511v4M572.5 511v4M573.5 513v2M574.5 511v4M575.5 508v3M576.5 510v3M577.5 513v2M578.5 511v2M579.5 506v5M580.5 509v6M581.5 514v1M582.5 514v1M583.5 514v1M584.5 513v2M585.5 510v5M586.5 514v1M587.5 512v3M588.5 511v4M589.5 514v1M590.5 510v5M591.5 496v14M592.5 505v10M593.5 502v8M594.5 510v5M595.5 509v5M596.5 492v17M597.5 500v11M598.5 511v4M599.5 507v8M600.5 503v4M601.5 506v9M602.5 512v3M603.5 509v3M604.5 510v2M605.5 508v3M606.5 504v10M607.5 504v11M608.5 506v5M609.5 498v11M610.5 489v26M611.5 506v5M612.5 508v5M613.5 511v4M614.5 472v39M615.5 492v23M616.5 514v1M617.5 514v1M618.5 512v3M619.5 508v4M620.5 511v4M621.5 514v1M622.5 499v16M623.5 461v51M624.5 485v26M625.5 509v6M626.5 501v14M627.5 491v10M628.5 496v19M629.5 502v7M630.5 507v8M631.5 508v4M632.5 509v3M633.5 512v3M634.5 514v1M635.5 514v1M636.5 511v4M637.5 507v4M638.5 508v7M639.5 501v14M640.5 512v3M641.5 509v6M642.5 508v7M643.5 510v3M644.5 507v4M645.5 511v4M646.5 506v7M647.5 509v6M648.5 504v6M649.5 504v11M650.5 498v17M651.5 511v2M652.5 501v11M653.5 491v12M654.5 503v12M655.5 511v2M656.5 512v1M657.5 513v2M658.5 507v6M659.5 506v2M660.5 476v30M661.5 494v19M662.5 512v3M663.5 513v2M664.5 513v2M665.5 510v5M666.5 509v6M667.5 509v1M668.5 505v5M669.5 499v10M670.5 509v3M671.5 510v2M672.5 509v1M673.5 508v7M674.5 509v3M675.5 506v3M676.5 467v46M677.5 474v41M678.5 492v19M679.5 502v11M680.5 511v1M681.5 509v6M682.5 506v9M683.5 508v4M684.5 503v12M685.5 467v43M686.5 489v24M687.5 513v2M688.5 510v3M689.5 511v2M690.5 503v12M691.5 499v8M692.5 482v33M693.5 495v15M694.5 510v5M695.5 509v4M696.5 510v1M697.5 510v3M698.5 511v4M699.5 506v5M700.5 502v8M701.5 508v7M702.5 507v3M703.5 506v6M704.5 502v5M705.5 507v5M706.5 510v5M707.5 512v2M708.5 513v2M709.5 506v9M710.5 510v5M711.5 511v4M712.5 514v1M713.5 506v9M714.5 504v7M715.5 511v4M716.5 507v8M717.5 503v12M718.5 507v4M719.5 511v4M720.5 511v4M721.5 507v4M722.5 505v5M723.5 510v3M724.5 512v3M725.5 512v3M726.5 513v2M727.5 510v3M728.5 506v9M729.5 496v10M730.5 505v10M731.5 503v6M732.5 504v6M733.5 502v13M734.5 512v3M735.5 506v6M736.5 509v4M737.5 513v2M738.5 514v1M739.5 512v3M740.5 508v7M741.5 507v6M742.5 509v4M743.5 512v3M744.5 497v18M745.5 504v8M746.5 476v37M747.5 495v20M748.5 504v6M749.5 506v6M750.5 508v2M751.5 509v6M752.5 512v3M753.5 512v2M754.5 472v43M755.5 493v22M756.5 512v3M757.5 509v6M758.5 510v2M759.5 508v7M760.5 510v5M761.5 512v3M762.5 510v5M763.5 501v9M764.5 493v19M765.5 509v6M766.5 514v1M767.5 512v3M768.5 508v7M769.5 507v4M770.5 505v7M771.5 508v5M772.5 507v8M773.5 499v11M774.5 510v2M775.5 509v3M776.5 506v6M777.5 511v2M778.5 509v4M779.5 502v8M780.5 496v19M781.5 501v14M782.5 506v7M783.5 497v18M784.5 506v9M785.5 509v3M786.5 504v7M787.5 509v6M788.5 506v5M789.5 508v7M790.5 511v4M791.5 512v3M792.5 508v4M793.5 509v3M794.5 504v11M795.5 506v9M796.5 503v6M797.5 509v6M798.5 510v3M799.5 509v6M800.5 507v6M801.5 513v2M802.5 507v8M803.5 502v8M804.5 506v6M805.5 512v3M806.5 511v2M807.5 509v6M808.5 465v44M809.5 490v25M810.5 510v5M811.5 510v5M812.5 505v5M813.5 508v3M814.5 509v2M815.5 510v3M816.5 509v6M817.5 508v4M818.5 505v5M819.5 510v5M820.5 509v3M821.5 512v3M822.5 510v3M823.5 511v4M824.5 512v3M825.5 508v4M826.5 504v5M827.5 509v6M828.5 510v5M829.5 505v10M830.5 512v3M831.5 509v3M832.5 507v8M833.5 502v6M834.5 508v7M835.5 511v4M836.5 506v5M837.5 509v4M838.5 509v6M839.5 510v2M840.5 508v7M841.5 506v2M842.5 508v7M843.5 495v17M844.5 480v17M845.5 497v18M846.5 501v14M847.5 511v2M848.5 508v6M849.5 503v5M850.5 503v8M851.5 505v10M852.5 512v3M853.5 508v4M854.5 510v5M855.5 513v2M856.5 510v3M857.5 510v1M858.5 511v2M859.5 510v5M860.5 504v6M861.5 507v6M862.5 511v4M863.5 511v1M864.5 512v3M865.5 513v2M866.5 511v4M867.5 514v1M868.5 512v2M869.5 487v28M870.5 501v14M871.5 514v1M872.5 506v8M873.5 510v5M874.5 510v5M875.5 509v6M876.5 506v5M877.5 501v14M878.5 511v2M879.5 504v11M880.5 492v20M881.5 510v2M882.5 512v3M883.5 508v7M884.5 513v2M885.5 510v5M886.5 507v8M887.5 510v5M888.5 505v6M889.5 511v4M890.5 485v30M891.5 500v15M892.5 510v5M893.5 505v8M894.5 506v9M895.5 508v2M896.5 510v5M897.5 514v1M898.5 508v7M899.5 500v11M900.5 507v2M901.5 509v6M902.5 503v12M903.5 501v4M904.5 489v21M905.5 501v14M906.5 508v7M907.5 509v6M908.5 511v4M909.5 507v8M910.5 510v5M911.5 508v2M912.5 502v11M913.5 498v14M914.5 508v3M915.5 506v9M916.5 508v4M917.5 503v12M918.5 509v6M919.5 514v1M920.5 508v7M921.5 482v28M922.5 498v17M923.5 499v12M924.5 511v4M925.5 508v7M926.5 508v7M927.5 511v2M928.5 510v3M929.5 510v4M930.5 513v2M931.5 502v11M932.5 508v7M933.5 508v5M934.5 501v7M935.5 508v7M936.5 501v11M937.5 505v10M938.5 506v5M939.5 510v5M940.5 513v2M941.5 514v1M942.5 512v3M943.5 513v2M944.5 510v3M945.5 511v4M946.5 513v2M947.5 511v4M948.5 513v1M949.5 514v1M950.5 511v4M951.5 506v5M952.5 508v7M953.5 509v3M954.5 506v3M955.5 506v4M956.5 507v8M957.5 508v4M958.5 512v3M959.5 511v2M960.5 509v6M961.5 507v8M962.5 511v2M963.5 509v6M964.5 506v9M965.5 507v2M966.5 509v6M967.5 514v1M968.5 512v2M969.5 508v5M970.5 511v3M971.5 507v6M972.5 512v3M973.5 505v7M974.5 500v12M975.5 512v3M976.5 509v3M977.5 510v2M978.5 512v3M979.5 514v1M980.5 504v11M981.5 509v6M982.5 472v41M983.5 493v22M984.5 507v7M985.5 509v3M986.5 511v1" fill="none" stroke="#00c000" stroke-width="1" shape-rendering="crispEdges"/><path d="M101.5 507v2M102.5 507v5M103.5 512v5M104.5 513v4M105.5 508v8M106.5 515v1M107.5 509v6M108.5 510v6M109.5 501v14M110.5 487v29M111.5 508v7M112.5 512v5M113.5 483v34M114.5 495v15M115.5 495v19M116.5 501v15M117.5 515v1M118.5 507v10M119.5 508v8M120.5 497v11M121.5 488v24M122.5 503v7M123.5 510v7M124.5 505v11M125.5 507v5M126.5 512v5M127.5 502v12M128.5 492v10M129.5 492v24M130.5 512v2M131.5 510v6M132.5 503v14M133.5 512v4M134.5 501v11M135.5 498v18M136.5 504v8M137.5 512v5M138.5 515v1M139.5 515v1M140.5 515v1M141.5 515v1M142.5 515v1M143.5 515v1M144.5 515v1M145.5 515v1M146.5 515v1M147.5 515v1M148.5 515v1M149.5 515v1M150.5 515v1M151.5 515v1M152.5 515v1M153.5 515v1M154.5 515v1M155.5 515v1M156.5 515v1M157.5 515v1M158.5 515v1M159.5 515v1M160.5 515v1M161.5 515v1M162.5 515v1M163.5 515v1M164.5 515v1M165.5 515v1M166.5 515v1M167.5 515v1M168.5 515v1M169.5 515v1M170.5 515v1M171.5 515v1M172.5 515v1M173.5 515v1M174.5 515v1M175.5 501v6M175.5 515v1M176.5 507v6M176.5 515v1M177.5 502v14M178.5 506v5M179.5 504v3M180.5 506v10M181.5 515v1M182.5 509v8M183.5 503v13M184.5 515v1M185.5 515v1M186.5 513v3M187.5 515v1M188.5 512v5M189.5 507v5M190.5 510v4M191.5 498v13M192.5 489v9M193.5 487v21M194.5 501v15M195.5 511v6M196.5 496v19M197.5 492v12M198.5 504v13M199.5 494v22M200.5 512v4M201.5 508v9M202.5 505v10M203.5 511v6M204.5 503v13M205.5 490v17M206.5 507v5M207.5 506v11M208.5 510v4M209.5 501v12M210.5 508v8M211.5 513v4M212.5 508v7M213.5 506v10M214.5 513v2M215.5 514v2M216.5 512v4M217.5 508v4M218.5 505v6M219.5 509v3M220.5 499v16M221.5 483v33M222.5 515v1M223.5 508v7M224.5 501v7M225.5 506v7M226.5 510v6M227.5 503v7M228.5 501v15M229.5 493v21M230.5 509v7M231.5 501v10M232.5 511v5M233.5 507v10M234.5 514v3M235.5 502v12M236.5 491v23M237.5 511v5M238.5 515v1M239.5 508v9M240.5 510v7M241.5 503v11M242.5 512v4M243.5 512v2M244.5 504v13M245.5 490v22M246.5 507v4M247.5 511v5M248.5 514v3M249.5 515v1M250.5 512v5M251.5 509v3M252.5 510v6M253.5 514v3M254.5 511v3M255.5 480v37M256.5 498v18M257.5 512v5M258.5 507v9M259.5 510v3M260.5 507v9M261.5 499v16M262.5 505v7M263.5 510v5M264.5 498v19M265.5 482v16M266.5 478v21M267.5 497v8M268.5 498v16M269.5 483v23M270.5 506v10M271.5 510v6M272.5 513v4M273.5 506v8M274.5 499v14M275.5 512v1M276.5 509v3M277.5 507v10M278.5 497v10M279.5 507v10M280.5 508v9M281.5 508v4M282.5 512v5M283.5 516v1M284.5 505v11M285.5 508v4M286.5 510v3M287.5 508v3M288.5 511v6M289.5 511v3M290.5 509v6M291.5 502v7M292.5 509v7M293.5 511v5M294.5 499v12M295.5 490v26M296.5 484v28M297.5 500v16M298.5 498v18M299.5 504v8M300.5 497v18M301.5 488v21M302.5 502v5M303.5 507v8M304.5 511v5M305.5 510v5M306.5 506v6M307.5 508v2M308.5 509v7M309.5 513v4M310.5 510v7M311.5 503v11M312.5 514v3M313.5 515v1M314.5 511v4M315.5 513v3M316.5 513v3M317.5 509v4M318.5 512v4M319.5 512v4M320.5 512v5M321.5 514v2M322.5 515v2M323.5 515v1M324.5 513v3M325.5 509v7M326.5 516v1M327.5 515v2M328.5 511v6M329.5 511v2M330.5 513v2M331.5 497v19M332.5 507v10M333.5 504v11M334.5 500v6M335.5 506v7M336.5 509v7M337.5 512v4M338.5 504v9M339.5 500v12M340.5 508v8M341.5 507v9M342.5 497v10M343.5 504v13M344.5 510v6M345.5 514v2M346.5 511v6M347.5 507v9M348.5 497v10M349.5 504v12M350.5 513v4M351.5 508v5M352.5 500v9M353.5 506v8M354.5 507v9M355.5 508v9M356.5 508v5M357.5 506v10M358.5 510v3M359.5 504v10M360.5 510v7M361.5 509v4M362.5 513v4M363.5 509v5M364.5 512v4M365.5 510v6M366.5 503v11M367.5 503v14M368.5 489v27M369.5 516v1M370.5 482v34M371.5 496v20M372.5 508v4M373.5 500v15M374.5 499v18M375.5 491v12M376.5 502v14M377.5 487v15M378.5 494v20M379.5 508v8M380.5 512v4M381.5 487v30M382.5 502v15M383.5 515v1M384.5 510v6M385.5 503v7M386.5 499v18M387.5 506v8M388.5 508v4M389.5 505v12M390.5 506v11M391.5 515v1M392.5 512v4M393.5 514v3M394.5 515v1M395.5 512v5M396.5 513v3M397.5 510v6M398.5 508v6M399.5 505v5M400.5 510v6M401.5 514v3M402.5 488v27M403.5 501v15M404.5 509v4M405.5 499v18M406.5 481v29M407.5 509v3M408.5 512v5M409.5 513v2M410.5 504v12M411.5 502v8M412.5 501v8M413.5 502v15M414.5 491v25M415.5 515v1M416.5 515v1M417.5 512v5M418.5 495v17M419.5 504v13M420.5 510v4M421.5 499v13M422.5 504v9M423.5 509v3M424.5 512v5M425.5 514v3M426.5 511v4M427.5 514v3M428.5 505v9M429.5 498v9M430.5 496v21M431.5 511v3M432.5 512v5M433.5 512v5M434.5 515v1M435.5 499v18M436.5 500v17M437.5 483v25M438.5 508v9M439.5 505v5M440.5 499v17M441.5 504v8M442.5 498v8M443.5 489v21M444.5 504v6M445.5 510v7M446.5 504v11M447.5 500v4M448.5 503v10M449.5 498v13M450.5 486v15M451.5 501v16M452.5 515v1M453.5 514v2M454.5 484v30M455.5 498v15M456.5 507v5M457.5 512v4M458.5 510v3M459.5 510v6M460.5 509v8M461.5 501v15M462.5 516v1M463.5 515v2M464.5 512v3M465.5 491v24M466.5 503v12M467.5 513v3M468.5 511v2M469.5 506v10M470.5 508v8M471.5 509v4M472.5 507v9M473.5 499v17M474.5 503v9M475.5 503v14M476.5 494v9M477.5 487v25M478.5 505v6M479.5 511v6M480.5 509v7M481.5 501v16M482.5 496v13M483.5 489v24M484.5 500v16M485.5 484v16M486.5 498v18M487.5 515v1M488.5 508v8M489.5 504v10M490.5 507v4M491.5 510v6M492.5 503v14M493.5 490v13M494.5 497v13M495.5 510v6M496.5 507v9M497.5 497v12M498.5 490v9M499.5 499v18M500.5 507v9M501.5 499v8M502.5 501v12M503.5 511v5M504.5 503v8M505.5 503v14M506.5 510v7M507.5 509v7M508.5 505v7M509.5 512v5M510.5 493v22M511.5 504v12M512.5 503v13M513.5 515v2M514.5 509v8M515.5 500v16M516.5 510v6M517.5 511v5M518.5 505v11M519.5 510v6M520.5 503v7M521.5 510v4M522.5 514v2M523.5 511v5M524.5 503v13M525.5 500v8M526.5 497v19M527.5 481v16M528.5 493v21M529.5 507v8M530.5 515v2M531.5 506v9M532.5 504v12M533.5 508v4M534.5 504v9M535.5 509v8M536.5 501v16M537.5 502v14M538.5 516v1M539.5 501v15M540.5 495v17M541.5 505v5M542.5 481v35M543.5 490v12M544.5 502v13M545.5 504v12M546.5 509v5M547.5 497v19M548.5 481v33M549.5 514v2M550.5 514v3M551.5 512v4M552.5 504v8M553.5 498v7M554.5 505v6M555.5 498v13M556.5 504v6M557.5 509v6M558.5 503v14M559.5 505v12M560.5 501v4M561.5 496v14M562.5 485v15M563.5 500v16M564.5 505v11M565.5 503v3M566.5 506v11M567.5 509v8M568.5 507v2M569.5 509v3M570.5 509v1M571.5 508v7M572.5 507v10M573.5 496v11M574.5 504v13M575.5 513v4M576.5 510v3M577.5 505v12M578.5 498v9M579.5 507v10M580.5 509v7M581.5 505v6M582.5 511v6M583.5 499v12M584.5 481v24M585.5 456v49M586.5 504v6M587.5 510v7M588.5 507v9M589.5 508v9M590.5 482v26M591.5 481v27M592.5 494v17M593.5 511v5M594.5 506v5M595.5 511v5M596.5 513v3M597.5 505v8M598.5 497v17M599.5 512v2M600.5 510v6M601.5 503v9M602.5 512v4M603.5 514v2M604.5 505v12M605.5 493v12M606.5 497v11M607.5 506v5M608.5 511v6M609.5 512v5M610.5 509v7M611.5 508v4M612.5 510v6M613.5 504v6M614.5 509v8M615.5 501v13M616.5 514v3M617.5 515v2M618.5 514v2M619.5 510v4M620.5 507v9M621.5 512v4M622.5 502v10M623.5 492v19M624.5 511v2M625.5 512v1M626.5 509v6M627.5 512v3M628.5 514v3M629.5 512v2M630.5 511v6M631.5 512v5M632.5 513v3M633.5 498v15M634.5 496v14M635.5 510v3M636.5 513v3M637.5 516v1M638.5 515v2M639.5 515v2M640.5 509v7M641.5 494v15M642.5 495v16M643.5 481v17M644.5 498v18M645.5 504v7M646.5 511v5M647.5 506v10M648.5 496v10M649.5 504v12M650.5 512v4M651.5 509v5M652.5 503v11M653.5 511v2M654.5 509v7M655.5 502v7M656.5 507v4M657.5 511v5M658.5 512v4M659.5 507v5M660.5 497v19M661.5 506v10M662.5 505v10M663.5 509v8M664.5 511v3M665.5 511v5M666.5 513v3M667.5 516v1M668.5 515v2M669.5 493v23M670.5 471v22M671.5 487v25M672.5 511v6M673.5 505v10M674.5 507v9M675.5 498v9M676.5 503v12M677.5 508v8M678.5 510v3M679.5 469v44M680.5 475v23M681.5 498v18M682.5 503v14M683.5 515v1M684.5 504v12M685.5 505v11M686.5 498v12M687.5 491v24M688.5 515v1M689.5 508v9M690.5 512v4M691.5 513v3M692.5 509v7M693.5 511v5M694.5 515v1M695.5 514v2M696.5 498v17M697.5 482v28M698.5 510v7M699.5 507v5M700.5 505v7M701.5 510v6M702.5 509v4M703.5 504v10M704.5 510v6M705.5 509v8M706.5 501v8M707.5 506v5M708.5 511v5M709.5 501v13M710.5 503v7M711.5 496v16M712.5 510v2M713.5 512v3M714.5 512v4M715.5 506v7M716.5 500v16M717.5 511v3M718.5 514v3M719.5 511v6M720.5 511v5M721.5 507v7M722.5 501v15M723.5 512v4M724.5 508v7M725.5 511v5M726.5 514v3M727.5 510v6M728.5 513v4M729.5 513v2M730.5 496v20M731.5 478v19M732.5 482v34M733.5 497v19M734.5 511v5M735.5 487v24M736.5 486v30M737.5 501v15M738.5 512v4M739.5 511v3M740.5 509v7M741.5 505v5M742.5 487v22M743.5 465v48M744.5 494v22M745.5 499v9M746.5 507v9M747.5 502v13M748.5 490v27M749.5 496v20M750.5 483v13M751.5 496v16M752.5 499v9M753.5 508v9M754.5 508v8M755.5 505v4M756.5 509v4M757.5 506v10M758.5 504v2M759.5 500v8M760.5 508v8M761.5 513v1M762.5 509v7M763.5 510v2M764.5 510v6M765.5 514v2M766.5 515v1M767.5 508v9M768.5 500v16M769.5 511v3M770.5 500v17M771.5 482v18M772.5 487v23M773.5 486v20M774.5 505v4M775.5 509v6M776.5 503v6M777.5 508v4M778.5 497v13M779.5 506v10M780.5 487v29M781.5 499v12M782.5 509v3M783.5 489v20M784.5 471v45M785.5 509v6M786.5 497v12M787.5 506v9M788.5 509v2M789.5 507v5M790.5 512v4M791.5 510v7M792.5 504v12M793.5 501v8M794.5 509v8M795.5 511v4M796.5 500v14M797.5 486v30M798.5 512v2M799.5 514v2M800.5 489v27M801.5 501v13M802.5 505v8M803.5 499v17M804.5 507v9M805.5 497v19M806.5 510v6M807.5 504v13M808.5 512v4M809.5 509v3M810.5 509v3M811.5 511v5M812.5 513v2M813.5 506v8M814.5 498v9M815.5 503v13M816.5 504v8M817.5 510v7M818.5 509v7M819.5 513v4M820.5 508v5M821.5 509v8M822.5 507v3M823.5 510v4M824.5 505v6M825.5 509v5M826.5 513v4M827.5 481v36M828.5 493v17M829.5 502v14M830.5 508v7M831.5 509v8M832.5 505v10M833.5 502v7M834.5 509v7M835.5 503v14M836.5 489v14M837.5 477v39M838.5 497v20M839.5 508v9M840.5 510v6M841.5 504v6M842.5 499v18M843.5 508v9M844.5 510v1M845.5 509v4M846.5 499v18M847.5 508v9M848.5 477v39M849.5 494v19M850.5 490v25M851.5 503v14M852.5 499v9M853.5 473v26M854.5 444v69M855.5 476v33M856.5 503v6M857.5 509v7M858.5 500v17M859.5 482v35M860.5 505v9M861.5 498v15M862.5 487v13M863.5 500v7M864.5 507v7M865.5 509v4M866.5 493v24M867.5 477v24M868.5 501v15M869.5 511v4M870.5 513v3M871.5 511v3M872.5 508v8M873.5 515v1M874.5 506v10M875.5 496v21M876.5 503v7M877.5 500v15M878.5 508v8M879.5 509v2M880.5 509v4M881.5 513v4M882.5 514v3M883.5 512v4M884.5 505v7M885.5 499v17M886.5 508v8M887.5 503v6M888.5 501v15M889.5 485v16M890.5 500v16M891.5 500v17M892.5 505v5M893.5 505v9M894.5 496v12M895.5 508v8M896.5 508v9M897.5 515v1M898.5 513v4M899.5 508v9M900.5 516v1M901.5 513v3M902.5 499v15M903.5 483v16M904.5 497v14M905.5 504v11M906.5 508v5M907.5 507v6M908.5 511v5M909.5 506v10M910.5 510v7M911.5 510v5M912.5 498v18M913.5 480v37M914.5 515v1M915.5 475v42M916.5 495v21M917.5 507v8M918.5 509v7M919.5 503v6M920.5 501v15M921.5 508v7M922.5 505v5M923.5 508v8M924.5 506v9M925.5 497v14M926.5 500v11M927.5 502v6M928.5 500v14M929.5 497v12M930.5 506v10M931.5 506v11M932.5 510v5M933.5 504v12M934.5 507v10M935.5 509v3M936.5 509v4M937.5 505v6M938.5 510v6M939.5 510v6M940.5 512v2M941.5 512v5M942.5 511v6M943.5 515v1M944.5 515v2M945.5 508v9M946.5 512v4M947.5 513v3M948.5 509v4M949.5 508v7M950.5 510v7M951.5 510v6M952.5 503v7M953.5 510v3M954.5 512v5M955.5 506v10M956.5 512v4M957.5 512v5M958.5 505v11M959.5 493v12M960.5 504v13M961.5 512v4M962.5 510v5M963.5 506v7M964.5 503v8M965.5 510v7M966.5 509v8M967.5 501v8M968.5 506v11M969.5 502v14M970.5 515v1M971.5 507v9M972.5 506v9M973.5 502v4M974.5 497v20M975.5 515v1M976.5 481v35M977.5 485v13M978.5 498v8M979.5 500v10M980.5 507v9M981.5 516v1M982.5 515v1M983.5 512v3M984.5 509v7M985.5 480v36M986.5 496v16" fill="none" stroke="#0080ff" stroke-width="1" shape-rendering="crispEdges"/></g>
<path d="M908 92.5H965" fill="none" stroke="#ff0000" stroke-width="1" shape-rendering="crispEdges"/><path d="M908 111.5H965" fill="none" stroke="#00c000" stroke-width="1" shape-rendering="crispEdges"/><path d="M908 130.5H965" fill="none" stroke="#0080ff" stroke-width="1" shape-rendering="crispEdges"/><path d="M930.5 143.5h12v12h-12zM169.5 416.5h12v12h-12z" fill="none" stroke="#c000ff" stroke-width="1" shape-rendering="crispEdges"/><path d="M930 162h13v13h-13zM169 466h13v13h-13z" fill="#00eeee" shape-rendering="crispEdges"/><path d="M936 181.5h1M933 182.5h7M932 183.5h2M939 183.5h2M931 184.5h2M940 184.5h2M931 185.5h1M941 185.5h1M931 186.5h1M941 186.5h1M930 187.5h2M941 187.5h2M931 188.5h1M941 188.5h1M931 189.5h1M941 189.5h1M931 190.5h2M940 190.5h2M932 191.5h2M939 191.5h2M933 192.5h7M936 193.5h1M102 490.5h1M99 491.5h7M98 492.5h2M105 492.5h2M97 493.5h2M106 493.5h2M97 494.5h1M107 494.5h1M97 495.5h1M107 495.5h1M96 496.5h2M107 496.5h2M97 497.5h1M107 497.5h1M97 498.5h1M107 498.5h1M97 499.5h2M106 499.5h2M98 500.5h2M105 500.5h2M99 501.5h7M102 502.5h1M135 475.5h1M132 476.5h7M131 477.5h2M138 477.5h2M130 478.5h2M139 478.5h2M130 479.5h1M140 479.5h1M130 480.5h1M140 480.5h1M129 481.5h2M140 481.5h2M130 482.5h1M140 482.5h1M130 483.5h1M140 483.5h1M130 484.5h2M139 484.5h2M131 485.5h2M138 485.5h2M132 486.5h7M135 487.5h1M176 500.5h1M173 501.5h7M172 502.5h2M179 502.5h2M171 503.5h2M180 503.5h2M171 504.5h1M181 504.5h1M171 505.5h1M181 505.5h1M170 506.5h2M181 506.5h2M171 507.5h1M181 507.5h1M171 508.5h1M181 508.5h1M171 509.5h2M180 509.5h2M172 510.5h2M179 510.5h2M173 511.5h7M176 512.5h1M213 489.5h1M210 490.5h7M209 491.5h2M216 491.5h2M208 492.5h2M217 492.5h2M208 493.5h1M218 493.5h1M208 494.5h1M218 494.5h1M207 495.5h2M218 495.5h2M208 496.5h1M218 496.5h1M208 497.5h1M218 497.5h1M208 498.5h2M217 498.5h2M209 499.5h2M216 499.5h2M210 500.5h7M213 501.5h1M209 500.5h1M206 501.5h7M205 502.5h2M212 502.5h2M204 503.5h2M213 503.5h2M204 504.5h1M214 504.5h1M204 505.5h1M214 505.5h1M203 506.5h2M214 506.5h2M204 507.5h1M214 507.5h1M204 508.5h1M214 508.5h1M204 509.5h2M213 509.5h2M205 510.5h2M212 510.5h2M206 511.5h7M209 512.5h1M245 479.5h1M242 480.5h7M241 481.5h2M248 481.5h2M240 482.5h2M249 482.5h2M240 483.5h1M250 483.5h1M240 484.5h1M250 484.5h1M239 485.5h2M250 485.5h2M240 486.5h1M250 486.5h1M240 487.5h1M250 487.5h1M240 488.5h2M249 488.5h2M241 489.5h2M248 489.5h2M242 490.5h7M245 491.5h1M251 475.5h1M248 476.5h7M247 477.5h2M254 477.5h2M246 478.5h2M255 478.5h2M246 479.5h1M256 479.5h1M246 480.5h1M256 480.5h1M245 481.5h2M256 481.5h2M246 482.5h1M256 482.5h1M246 483.5h1M256 483.5h1M246 484.5h2M255 484.5h2M247 485.5h2M254 485.5h2M248 486.5h7M251 487.5h1M287 458.5h1M284 459.5h7M283 460.5h2M290 460.5h2M282 461.5h2M291 461.5h2M282 462.5h1M292 462.5h1M282 463.5h1M292 463.5h1M281 464.5h2M292 464.5h2M282 465.5h1M292 465.5h1M282 466.5h1M292 466.5h1M282 467.5h2M291 467.5h2M283 468.5h2M290 468.5h2M284 469.5h7M287 470.5h1M282 500.5h1M279 501.5h7M278 502.5h2M285 502.5h2M277 503.5h2M286 503.5h2M277 504.5h1M287 504.5h1M277 505.5h1M287 505.5h1M276 506.5h2M287 506.5h2M277 507.5h1M287 507.5h1M277 508.5h1M287 508.5h1M277 509.5h2M286 509.5h2M278 510.5h2M285 510.5h2M279 511.5h7M282 512.5h1M323 477.5h1M320 478.5h7M319 479.5h2M326 479.5h2M318 480.5h2M327 480.5h2M318 481.5h1M328 481.5h1M318 482.5h1M328 482.5h1M317 483.5h2M328 483.5h2M318 484.5h1M328 484.5h1M318 485.5h1M328 485.5h1M318 486.5h2M327 486.5h2M319 487.5h2M326 487.5h2M320 488.5h7M323 489.5h1M320 501.5h1M317 502.5h7M316 503.5h2M323 503.5h2M315 504.5h2M324 504.5h2M315 505.5h1M325 505.5h1M315 506.5h1M325 506.5h1M314 507.5h2M325 507.5h2M315 508.5h1M325 508.5h1M315 509.5h1M325 509.5h1M315 510.5h2M324 510.5h2M316 511.5h2M323 511.5h2M317 512.5h7M320 513.5h1M430 431.5h1M427 432.5h7M426 433.5h2M433 433.5h2M425 434.5h2M434 434.5h2M425 435.5h1M435 435.5h1M425 436.5h1M435 436.5h1M424 437.5h2M435 437.5h2M425 438.5h1M435 438.5h1M425 439.5h1M435 439.5h1M425 440.5h2M434 440.5h2M426 441.5h2M433 441.5h2M427 442.5h7M430 443.5h1M434 490.5h1M431 491.5h7M430 492.5h2M437 492.5h2M429 493.5h2M438 493.5h2M429 494.5h1M439 494.5h1M429 495.5h1M439 495.5h1M428 496.5h2M439 496.5h2M429 497.5h1M439 497.5h1M429 498.5h1M439 498.5h1M429 499.5h2M438 499.5h2M430 500.5h2M437 500.5h2M431 501.5h7M434 502.5h1M361 471.5h1M358 472.5h7M357 473.5h2M364 473.5h2M356 474.5h2M365 474.5h2M356 475.5h1M366 475.5h1M356 476.5h1M366 476.5h1M355 477.5h2M366 477.5h2M356 478.5h1M366 478.5h1M356 479.5h1M366 479.5h1M356 480.5h2M365 480.5h2M357 481.5h2M364 481.5h2M358 482.5h7M361 483.5h1M356 500.5h1M353 501.5h7M352 502.5h2M359 502.5h2M351 503.5h2M360 503.5h2M351 504.5h1M361 504.5h1M351 505.5h1M361 505.5h1M350 506.5h2M361 506.5h2M351 507.5h1M361 507.5h1M351 508.5h1M361 508.5h1M351 509.5h2M360 509.5h2M352 510.5h2M359 510.5h2M353 511.5h7M356 512.5h1M397 476.5h1M394 477.5h7M393 478.5h2M400 478.5h2M392 479.5h2M401 479.5h2M392 480.5h1M402 480.5h1M392 481.5h1M402 481.5h1M391 482.5h2M402 482.5h2M392 483.5h1M402 483.5h1M392 484.5h1M402 484.5h1M392 485.5h2M401 485.5h2M393 486.5h2M400 486.5h2M394 487.5h7M397 488.5h1M394 499.5h1M391 500.5h7M390 501.5h2M397 501.5h2M389 502.5h2M398 502.5h2M389 503.5h1M399 503.5h1M389 504.5h1M399 504.5h1M388 505.5h2M399 505.5h2M389 506.5h1M399 506.5h1M389 507.5h1M399 507.5h1M389 508.5h2M398 508.5h2M390 509.5h2M397 509.5h2M391 510.5h7M394 511.5h1M471 477.5h1M468 478.5h7M467 479.5h2M474 479.5h2M466 480.5h2M475 480.5h2M466 481.5h1M476 481.5h1M466 482.5h1M476 482.5h1M465 483.5h2M476 483.5h2M466 484.5h1M476 484.5h1M466 485.5h1M476 485.5h1M466 486.5h2M475 486.5h2M467 487.5h2M474 487.5h2M468 488.5h7M471 489.5h1M467 490.5h1M464 491.5h7M463 492.5h2M470 492.5h2M462 493.5h2M471 493.5h2M462 494.5h1M472 494.5h1M462 495.5h1M472 495.5h1M461 496.5h2M472 496.5h2M462 497.5h1M472 497.5h1M462 498.5h1M472 498.5h1M462 499.5h2M471 499.5h2M463 500.5h2M470 500.5h2M464 501.5h7M467 502.5h1M504 490.5h1M501 491.5h7M500 492.5h2M507 492.5h2M499 493.5h2M508 493.5h2M499 494.5h1M509 494.5h1M499 495.5h1M509 495.5h1M498 496.5h2M509 496.5h2M499 497.5h1M509 497.5h1M499 498.5h1M509 498.5h1M499 499.5h2M508 499.5h2M500 500.5h2M507 500.5h2M501 501.5h7M504 502.5h1M508 490.5h1M505 491.5h7M504 492.5h2M511 492.5h2M503 493.5h2M512 493.5h2M503 494.5h1M513 494.5h1M503 495.5h1M513 495.5h1M502 496.5h2M513 496.5h2M503 497.5h1M513 497.5h1M503 498.5h1M513 498.5h1M503 499.5h2M512 499.5h2M504 500.5h2M511 500.5h2M505 501.5h7M508 502.5h1M540 474.5h1M537 475.5h7M536 476.5h2M543 476.5h2M535 477.5h2M544 477.5h2M535 478.5h1M545 478.5h1M535 479.5h1M545 479.5h1M534 480.5h2M545 480.5h2M535 481.5h1M545 481.5h1M535 482.5h1M545 482.5h1M535 483.5h2M544 483.5h2M536 484.5h2M543 484.5h2M537 485.5h7M540 486.5h1M545 498.5h1M542 499.5h7M541 500.5h2M548 500.5h2M540 501.5h2M549 501.5h2M540 502.5h1M550 502.5h1M540 503.5h1M550 503.5h1M539 504.5h2M550 504.5h2M540 505.5h1M550 505.5h1M540 506.5h1M550 506.5h1M540 507.5h2M549 507.5h2M541 508.5h2M548 508.5h2M542 509.5h7M545 510.5h1M577 499.5h1M574 500.5h7M573 501.5h2M580 501.5h2M572 502.5h2M581 502.5h2M572 503.5h1M582 503.5h1M572 504.5h1M582 504.5h1M571 505.5h2M582 505.5h2M572 506.5h1M582 506.5h1M572 507.5h1M582 507.5h1M572 508.5h2M581 508.5h2M573 509.5h2M580 509.5h2M574 510.5h7M577 511.5h1M583 488.5h1M580 489.5h7M579 490.5h2M586 490.5h2M578 491.5h2M587 491.5h2M578 492.5h1M588 492.5h1M578 493.5h1M588 493.5h1M577 494.5h2M588 494.5h2M578 495.5h1M588 495.5h1M578 496.5h1M588 496.5h1M578 497.5h2M587 497.5h2M579 498.5h2M586 498.5h2M580 499.5h7M583 500.5h1M618 487.5h1M615 488.5h7M614 489.5h2M621 489.5h2M613 490.5h2M622 490.5h2M613 491.5h1M623 491.5h1M613 492.5h1M623 492.5h1M612 493.5h2M623 493.5h2M613 494.5h1M623 494.5h1M613 495.5h1M623 495.5h1M613 496.5h2M622 496.5h2M614 497.5h2M621 497.5h2M615 498.5h7M618 499.5h1M614 500.5h1M611 501.5h7M610 502.5h2M617 502.5h2M609 503.5h2M618 503.5h2M609 504.5h1M619 504.5h1M609 505.5h1M619 505.5h1M608 506.5h2M619 506.5h2M609 507.5h1M619 507.5h1M609 508.5h1M619 508.5h1M609 509.5h2M618 509.5h2M610 510.5h2M617 510.5h2M611 511.5h7M614 512.5h1M655 474.5h1M652 475.5h7M651 476.5h2M658 476.5h2M650 477.5h2M659 477.5h2M650 478.5h1M660 478.5h1M650 479.5h1M660 479.5h1M649 480.5h2M660 480.5h2M650 481.5h1M660 481.5h1M650 482.5h1M660 482.5h1M650 483.5h2M659 483.5h2M651 484.5h2M658 484.5h2M652 485.5h7M655 486.5h1M652 490.5h1M649 491.5h7M648 492.5h2M655 492.5h2M647 493.5h2M656 493.5h2M647 494.5h1M657 494.5h1M647 495.5h1M657 495.5h1M646 496.5h2M657 496.5h2M647 497.5h1M657 497.5h1M647 498.5h1M657 498.5h1M647 499.5h2M656 499.5h2M648 500.5h2M655 500.5h2M649 501.5h7M652 502.5h1M688 476.5h1M685 477.5h7M684 478.5h2M691 478.5h2M683 479.5h2M692 479.5h2M683 480.5h1M693 480.5h1M683 481.5h1M693 481.5h1M682 482.5h2M693 482.5h2M683 483.5h1M693 483.5h1M683 484.5h1M693 484.5h1M683 485.5h2M692 485.5h2M684 486.5h2M691 486.5h2M685 487.5h7M688 488.5h1M693 475.5h1M690 476.5h7M689 477.5h2M696 477.5h2M688 478.5h2M697 478.5h2M688 479.5h1M698 479.5h1M688 480.5h1M698 480.5h1M687 481.5h2M698 481.5h2M688 482.5h1M698 482.5h1M688 483.5h1M698 483.5h1M688 484.5h2M697 484.5h2M689 485.5h2M696 485.5h2M690 486.5h7M693 487.5h1M725 476.5h1M722 477.5h7M721 478.5h2M728 478.5h2M720 479.5h2M729 479.5h2M720 480.5h1M730 480.5h1M720 481.5h1M730 481.5h1M719 482.5h2M730 482.5h2M720 483.5h1M730 483.5h1M720 484.5h1M730 484.5h1M720 485.5h2M729 485.5h2M721 486.5h2M728 486.5h2M722 487.5h7M725 488.5h1M729 490.5h1M726 491.5h7M725 492.5h2M732 492.5h2M724 493.5h2M733 493.5h2M724 494.5h1M734 494.5h1M724 495.5h1M734 495.5h1M723 496.5h2M734 496.5h2M724 497.5h1M734 497.5h1M724 498.5h1M734 498.5h1M724 499.5h2M733 499.5h2M725 500.5h2M732 500.5h2M726 501.5h7M729 502.5h1M762 478.5h1M759 479.5h7M758 480.5h2M765 480.5h2M757 481.5h2M766 481.5h2M757 482.5h1M767 482.5h1M757 483.5h1M767 483.5h1M756 484.5h2M767 484.5h2M757 485.5h1M767 485.5h1M757 486.5h1M767 486.5h1M757 487.5h2M766 487.5h2M758 488.5h2M765 488.5h2M759 489.5h7M762 490.5h1M766 490.5h1M763 491.5h7M762 492.5h2M769 492.5h2M761 493.5h2M770 493.5h2M761 494.5h1M771 494.5h1M761 495.5h1M771 495.5h1M760 496.5h2M771 496.5h2M761 497.5h1M771 497.5h1M761 498.5h1M771 498.5h1M761 499.5h2M770 499.5h2M762 500.5h2M769 500.5h2M763 501.5h7M766 502.5h1M799 491.5h1M796 492.5h7M795 493.5h2M802 493.5h2M794 494.5h2M803 494.5h2M794 495.5h1M804 495.5h1M794 496.5h1M804 496.5h1M793 497.5h2M804 497.5h2M794 498.5h1M804 498.5h1M794 499.5h1M804 499.5h1M794 500.5h2M803 500.5h2M795 501.5h2M802 501.5h2M796 502.5h7M799 503.5h1M803 487.5h1M800 488.5h7M799 489.5h2M806 489.5h2M798 490.5h2M807 490.5h2M798 491.5h1M808 491.5h1M798 492.5h1M808 492.5h1M797 493.5h2M808 493.5h2M798 494.5h1M808 494.5h1M798 495.5h1M808 495.5h1M798 496.5h2M807 496.5h2M799 497.5h2M806 497.5h2M800 498.5h7M803 499.5h1M835 477.5h1M832 478.5h7M831 479.5h2M838 479.5h2M830 480.5h2M839 480.5h2M830 481.5h1M840 481.5h1M830 482.5h1M840 482.5h1M829 483.5h2M840 483.5h2M830 484.5h1M840 484.5h1M830 485.5h1M840 485.5h1M830 486.5h2M839 486.5h2M831 487.5h2M838 487.5h2M832 488.5h7M835 489.5h1M840 476.5h1M837 477.5h7M836 478.5h2M843 478.5h2M835 479.5h2M844 479.5h2M835 480.5h1M845 480.5h1M835 481.5h1M845 481.5h1M834 482.5h2M845 482.5h2M835 483.5h1M845 483.5h1M835 484.5h1M845 484.5h1M835 485.5h2M844 485.5h2M836 486.5h2M843 486.5h2M837 487.5h7M840 488.5h1M872 489.5h1M869 490.5h7M868 491.5h2M875 491.5h2M867 492.5h2M876 492.5h2M867 493.5h1M877 493.5h1M867 494.5h1M877 494.5h1M866 495.5h2M877 495.5h2M867 496.5h1M877 496.5h1M867 497.5h1M877 497.5h1M867 498.5h2M876 498.5h2M868 499.5h2M875 499.5h2M869 500.5h7M872 501.5h1M877 490.5h1M874 491.5h7M873 492.5h2M880 492.5h2M872 493.5h2M881 493.5h2M872 494.5h1M882 494.5h1M872 495.5h1M882 495.5h1M871 496.5h2M882 496.5h2M872 497.5h1M882 497.5h1M872 498.5h1M882 498.5h1M872 499.5h2M881 499.5h2M873 500.5h2M880 500.5h2M874 501.5h7M877 502.5h1M909 475.5h1M906 476.5h7M905 477.5h2M912 477.5h2M904 478.5h2M913 478.5h2M904 479.5h1M914 479.5h1M904 480.5h1M914 480.5h1M903 481.5h2M914 481.5h2M904 482.5h1M914 482.5h1M904 483.5h1M914 483.5h1M904 484.5h2M913 484.5h2M905 485.5h2M912 485.5h2M906 486.5h7M909 487.5h1M913 483.5h1M910 484.5h7M909 485.5h2M916 485.5h2M908 486.5h2M917 486.5h2M908 487.5h1M918 487.5h1M908 488.5h1M918 488.5h1M907 489.5h2M918 489.5h2M908 490.5h1M918 490.5h1M908 491.5h1M918 491.5h1M908 492.5h2M917 492.5h2M909 493.5h2M916 493.5h2M910 494.5h7M913 495.5h1M946 489.5h1M943 490.5h7M942 491.5h2M949 491.5h2M941 492.5h2M950 492.5h2M941 493.5h1M951 493.5h1M941 494.5h1M951 494.5h1M940 495.5h2M951 495.5h2M941 496.5h1M951 496.5h1M941 497.5h1M951 497.5h1M941 498.5h2M950 498.5h2M942 499.5h2M949 499.5h2M943 500.5h7M946 501.5h1M950 489.5h1M947 490.5h7M946 491.5h2M953 491.5h2M945 492.5h2M954 492.5h2M945 493.5h1M955 493.5h1M945 494.5h1M955 494.5h1M944 495.5h2M955 495.5h2M945 496.5h1M955 496.5h1M945 497.5h1M955 497.5h1M945 498.5h2M954 498.5h2M946 499.5h2M953 499.5h2M947 500.5h7M950 501.5h1M983 456.5h1M980 457.5h7M979 458.5h2M986 458.5h2M978 459.5h2M987 459.5h2M978 460.5h1M988 460.5h1M978 461.5h1M988 461.5h1M977 462.5h2M988 462.5h2M978 463.5h1M988 463.5h1M978 464.5h1M988 464.5h1M978 465.5h2M987 465.5h2M979 466.5h2M986 466.5h2M980 467.5h7M983 468.5h1" fill="none" stroke="#c04000" stroke-width="1" shape-rendering="crispEdges"/><path d="M936 200.5h1M933 201.5h7M932 202.5h9M931 203.5h11M931 204.5h11M931 205.5h11M931 206.5h11M931 207.5h11M931 208.5h11M931 209.5h11M932 210.5h9M933 211.5h7M936 212.5h1M102 513.5h1M99 514.5h7M98 515.5h9M97 516.5h11M97 517.5h11M97 518.5h11M97 519.5h11M97 520.5h11M97 521.5h11M97 522.5h11M98 523.5h9M99 524.5h7M102 525.5h1M135 513.5h1M132 514.5h7M131 515.5h9M130 516.5h11M130 517.5h11M130 518.5h11M130 519.5h11M130 520.5h11M130 521.5h11M130 522.5h11M131 523.5h9M132 524.5h7M135 525.5h1M176 513.5h1M173 514.5h7M172 515.5h9M171 516.5h11M171 517.5h11M171 518.5h11M171 519.5h11M171 520.5h11M171 521.5h11M171 522.5h11M172 523.5h9M173 524.5h7M176 525.5h1M213 513.5h1M210 514.5h7M209 515.5h9M208 516.5h11M208 517.5h11M208 518.5h11M208 519.5h11M208 520.5h11M208 521.5h11M208 522.5h11M209 523.5h9M210 524.5h7M213 525.5h1M209 513.5h1M206 514.5h7M205 515.5h9M204 516.5h11M204 517.5h11M204 518.5h11M204 519.5h11M204 520.5h11M204 521.5h11M204 522.5h11M205 523.5h9M206 524.5h7M209 525.5h1M245 513.5h1M242 514.5h7M241 515.5h9M240 516.5h11M240 517.5h11M240 518.5h11M240 519.5h11M240 520.5h11M240 521.5h11M240 522.5h11M241 523.5h9M242 524.5h7M245 525.5h1M251 513.5h1M248 514.5h7M247 515.5h9M246 516.5h11M246 517.5h11M246 518.5h11M246 519.5h11M246 520.5h11M246 521.5h11M246 522.5h11M247 523.5h9M248 524.5h7M251 525.5h1M287 513.5h1M284 514.5h7M283 515.5h9M282 516.5h11M282 517.5h11M282 518.5h11M282 519.5h11M282 520.5h11M282 521.5h11M282 522.5h11M283 523.5h9M284 524.5h7M287 525.5h1M282 513.5h1M279 514.5h7M278 515.5h9M277 516.5h11M277 517.5h11M277 518.5h11M277 519.5h11M277 520.5h11M277 521.5h11M277 522.5h11M278 523.5h9M279 524.5h7M282 525.5h1M323 513.5h1M320 514.5h7M319 515.5h9M318 516.5h11M318 517.5h11M318 518.5h11M318 519.5h11M318 520.5h11M318 521.5h11M318 522.5h11M319 523.5h9M320 524.5h7M323 525.5h1M320 513.5h1M317 514.5h7M316 515.5h9M315 516.5h11M315 517.5h11M315 518.5h11M315 519.5h11M315 520.5h11M315 521.5h11M315 522.5h11M316 523.5h9M317 524.5h7M320 525.5h1M430 513.5h1M427 514.5h7M426 515.5h9M425 516.5h11M425 517.5h11M425 518.5h11M425 519.5h11M425 520.5h11M425 521.5h11M425 522.5h11M426 523.5h9M427 524.5h7M430 525.5h1M434 513.5h1M431 514.5h7M430 515.5h9M429 516.5h11M429 517.5h11M429 518.5h11M429 519.5h11M429 520.5h11M429 521.5h11M429 522.5h11M430 523.5h9M431 524.5h7M434 525.5h1M361 513.5h1M358 514.5h7M357 515.5h9M356 516.5h11M356 517.5h11M356 518.5h11M356 519.5h11M356 520.5h11M356 521.5h11M356 522.5h11M357 523.5h9M358 524.5h7M361 525.5h1M356 513.5h1M353 514.5h7M352 515.5h9M351 516.5h11M351 517.5h11M351 518.5h11M351 519.5h11M351 520.5h11M351 521.5h11M351 522.5h11M352 523.5h9M353 524.5h7M356 525.5h1M397 513.5h1M394 514.5h7M393 515.5h9M392 516.5h11M392 517.5h11M392 518.5h11M392 519.5h11M392 520.5h11M392 521.5h11M392 522.5h11M393 523.5h9M394 524.5h7M397 525.5h1M394 513.5h1M391 514.5h7M390 515.5h9M389 516.5h11M389 517.5h11M389 518.5h11M389 519.5h11M389 520.5h11M389 521.5h11M389 522.5h11M390 523.5h9M391 524.5h7M394 525.5h1M471 509.5h1M468 510.5h7M467 511.5h9M466 512.5h11M466 513.5h11M466 514.5h11M466 515.5h11M466 516.5h11M466 517.5h11M466 518.5h11M467 519.5h9M468 520.5h7M471 521.5h1M467 505.5h1M464 506.5h7M463 507.5h9M462 508.5h11M462 509.5h11M462 510.5h11M462 511.5h11M462 512.5h11M462 513.5h11M462 514.5h11M463 515.5h9M464 516.5h7M467 517.5h1M504 507.5h1M501 508.5h7M500 509.5h9M499 510.5h11M499 511.5h11M499 512.5h11M499 513.5h11M499 514.5h11M499 515.5h11M499 516.5h11M500 517.5h9M501 518.5h7M504 519.5h1M508 513.5h1M505 514.5h7M504 515.5h9M503 516.5h11M503 517.5h11M503 518.5h11M503 519.5h11M503 520.5h11M503 521.5h11M503 522.5h11M504 523.5h9M505 524.5h7M508 525.5h1M540 513.5h1M537 514.5h7M536 515.5h9M535 516.5h11M535 517.5h11M535 518.5h11M535 519.5h11M535 520.5h11M535 521.5h11M535 522.5h11M536 523.5h9M537 524.5h7M540 525.5h1M545 513.5h1M542 514.5h7M541 515.5h9M540 516.5h11M540 517.5h11M540 518.5h11M540 519.5h11M540 520.5h11M540 521.5h11M540 522.5h11M541 523.5h9M542 524.5h7M545 525.5h1M577 513.5h1M574 514.5h7M573 515.5h9M572 516.5h11M572 517.5h11M572 518.5h11M572 519.5h11M572 520.5h11M572 521.5h11M572 522.5h11M573 523.5h9M574 524.5h7M577 525.5h1M583 513.5h1M580 514.5h7M579 515.5h9M578 516.5h11M578 517.5h11M578 518.5h11M578 519.5h11M578 520.5h11M578 521.5h11M578 522.5h11M579 523.5h9M580 524.5h7M583 525.5h1M618 513.5h1M615 514.5h7M614 515.5h9M613 516.5h11M613 517.5h11M613 518.5h11M613 519.5h11M613 520.5h11M613 521.5h11M613 522.5h11M614 523.5h9M615 524.5h7M618 525.5h1M614 513.5h1M611 514.5h7M610 515.5h9M609 516.5h11M609 517.5h11M609 518.5h11M609 519.5h11M609 520.5h11M609 521.5h11M609 522.5h11M610 523.5h9M611 524.5h7M614 525.5h1M655 513.5h1M652 514.5h7M651 515.5h9M650 516.5h11M650 517.5h11M650 518.5h11M650 519.5h11M650 520.5h11M650 521.5h11M650 522.5h11M651 523.5h9M652 524.5h7M655 525.5h1M652 513.5h1M649 514.5h7M648 515.5h9M647 516.5h11M647 517.5h11M647 518.5h11M647 519.5h11M647 520.5h11M647 521.5h11M647 522.5h11M648 523.5h9M649 524.5h7M652 525.5h1M688 507.5h1M685 508.5h7M684 509.5h9M683 510.5h11M683 511.5h11M683 512.5h11M683 513.5h11M683 514.5h11M683 515.5h11M683 516.5h11M684 517.5h9M685 518.5h7M688 519.5h1M693 513.5h1M690 514.5h7M689 515.5h9M688 516.5h11M688 517.5h11M688 518.5h11M688 519.5h11M688 520.5h11M688 521.5h11M688 522.5h11M689 523.5h9M690 524.5h7M693 525.5h1M725 505.5h1M722 506.5h7M721 507.5h9M720 508.5h11M720 509.5h11M720 510.5h11M720 511.5h11M720 512.5h11M720 513.5h11M720 514.5h11M721 515.5h9M722 516.5h7M725 517.5h1M729 513.5h1M726 514.5h7M725 515.5h9M724 516.5h11M724 517.5h11M724 518.5h11M724 519.5h11M724 520.5h11M724 521.5h11M724 522.5h11M725 523.5h9M726 524.5h7M729 525.5h1M762 513.5h1M759 514.5h7M758 515.5h9M757 516.5h11M757 517.5h11M757 518.5h11M757 519.5h11M757 520.5h11M757 521.5h11M757 522.5h11M758 523.5h9M759 524.5h7M762 525.5h1M766 513.5h1M763 514.5h7M762 515.5h9M761 516.5h11M761 517.5h11M761 518.5h11M761 519.5h11M761 520.5h11M761 521.5h11M761 522.5h11M762 523.5h9M763 524.5h7M766 525.5h1M799 513.5h1M796 514.5h7M795 515.5h9M794 516.5h11M794 517.5h11M794 518.5h11M794 519.5h11M794 520.5h11M794 521.5h11M794 522.5h11M795 523.5h9M796 524.5h7M799 525.5h1M803 513.5h1M800 514.5h7M799 515.5h9M798 516.5h11M798 517.5h11M798 518.5h11M798 519.5h11M798 520.5h11M798 521.5h11M798 522.5h11M799 523.5h9M800 524.5h7M803 525.5h1M835 513.5h1M832 514.5h7M831 515.5h9M830 516.5h11M830 517.5h11M830 518.5h11M830 519.5h11M830 520.5h11M830 521.5h11M830 522.5h11M831 523.5h9M832 524.5h7M835 525.5h1M840 513.5h1M837 514.5h7M836 515.5h9M835 516.5h11M835 517.5h11M835 518.5h11M835 519.5h11M835 520.5h11M835 521.5h11M835 522.5h11M836 523.5h9M837 524.5h7M840 525.5h1M872 513.5h1M869 514.5h7M868 515.5h9M867 516.5h11M867 517.5h11M867 518.5h11M867 519.5h11M867 520.5h11M867 521.5h11M867 522.5h11M868 523.5h9M869 524.5h7M872 525.5h1M877 513.5h1M874 514.5h7M873 515.5h9M872 516.5h11M872 517.5h11M872 518.5h11M872 519.5h11M872 520.5h11M872 521.5h11M872 522.5h11M873 523.5h9M874 524.5h7M877 525.5h1M909 513.5h1M906 514.5h7M905 515.5h9M904 516.5h11M904 517.5h11M904 518.5h11M904 519.5h11M904 520.5h11M904 521.5h11M904 522.5h11M905 523.5h9M906 524.5h7M909 525.5h1M913 513.5h1M910 514.5h7M909 515.5h9M908 516.5h11M908 517.5h11M908 518.5h11M908 519.5h11M908 520.5h11M908 521.5h11M908 522.5h11M909 523.5h9M910 524.5h7M913 525.5h1M946 513.5h1M943 514.5h7M942 515.5h9M941 516.5h11M941 517.5h11M941 518.5h11M941 519.5h11M941 520.5h11M941 521.5h11M941 522.5h11M942 523.5h9M943 524.5h7M946 525.5h1M950 513.5h1M947 514.5h7M946 515.5h9M945 516.5h11M945 517.5h11M945 518.5h11M945 519.5h11M945 520.5h11M945 521.5h11M945 522.5h11M946 523.5h9M947 524.5h7M950 525.5h1M983 513.5h1M980 514.5h7M979 515.5h9M978 516.5h11M978 517.5h11M978 518.5h11M978 519.5h11M978 520.5h11M978 521.5h11M978 522.5h11M979 523.5h9M980 524.5h7M983 525.5h1" fill="none" stroke="#c8c800" stroke-width="1" shape-rendering="crispEdges"/><path d="M936.5 217.5L944.5 229.5H928.5Z M175.5 442.5L183.5 454.5H167.5Z" fill="none" stroke="#4169e1" stroke-width="1"/><path d="M930 244.5h13M936.5 238v13M169 411.5h13M175.5 405v13" fill="none" stroke="#ffc020" stroke-width="1" shape-rendering="crispEdges"/>
<path d="M101.5 77.5H986.5V519.5H101.5Z" fill="none" stroke="#000" stroke-width="1" shape-rendering="crispEdges"/>
</svg></body></html>
